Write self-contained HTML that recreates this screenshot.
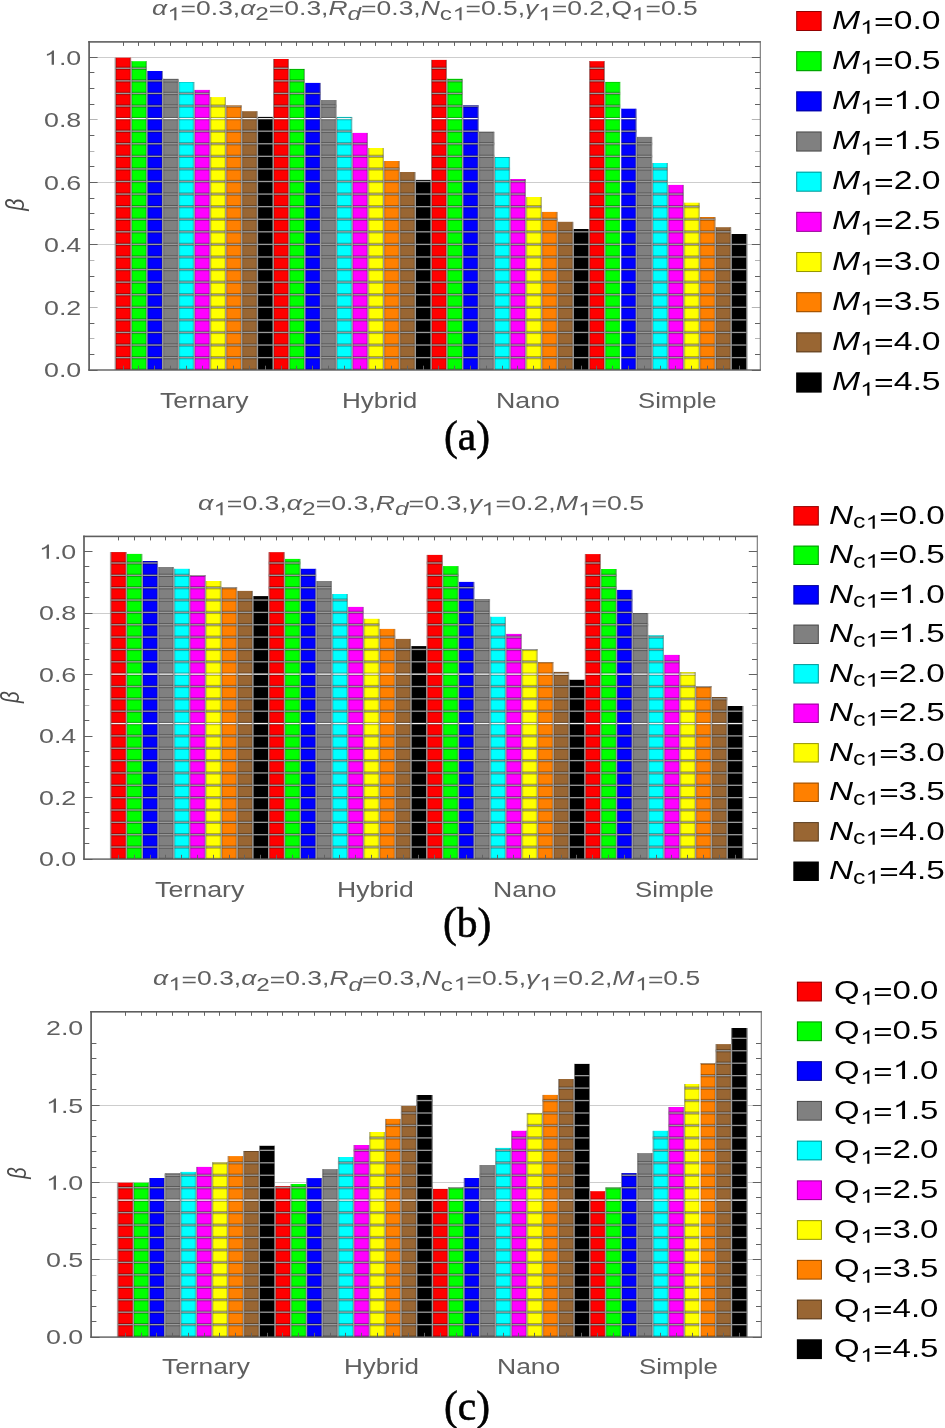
<!DOCTYPE html><html><head><meta charset="utf-8"><style>html,body{margin:0;padding:0;background:#fff;}body{width:945px;height:1428px;position:relative;overflow:hidden;}div{position:absolute;}.t{white-space:nowrap;transform-origin:0 0;font-family:"Liberation Sans",sans-serif;filter:grayscale(1);}.s{position:relative;}svg.o{display:inline-block;width:0.5562em;height:1.1172em;vertical-align:-0.2119em;fill:currentColor;overflow:visible}</style></head><body>
<svg style="position:absolute;left:0;top:0" width="945" height="1428" viewBox="0 0 945 1428" shape-rendering="auto">
<rect x="89.1" y="57" width="671.2" height="1" fill="#cdcdcd"/>
<rect x="89.1" y="182" width="671.2" height="1" fill="#cdcdcd"/>
<rect x="89.1" y="244" width="671.2" height="1" fill="#cdcdcd"/>
<rect x="115.3" y="57.7" width="15.79" height="312.3" fill="#ff0000"/>
<rect x="131.09" y="61.2" width="15.79" height="308.8" fill="#00ff00"/>
<rect x="146.88" y="71" width="15.79" height="299" fill="#0000ff"/>
<rect x="162.67" y="78.8" width="15.79" height="291.2" fill="#808080"/>
<rect x="178.46" y="82" width="15.79" height="288" fill="#00ffff"/>
<rect x="194.25" y="89.9" width="15.79" height="280.1" fill="#ff00ff"/>
<rect x="210.04" y="97.1" width="15.79" height="272.9" fill="#ffff00"/>
<rect x="225.83" y="105.4" width="15.79" height="264.6" fill="#ff8000"/>
<rect x="241.62" y="111.2" width="15.79" height="258.8" fill="#996633"/>
<rect x="257.41" y="116.9" width="15.79" height="253.1" fill="#000000"/>
<rect x="273.2" y="59" width="15.79" height="311" fill="#ff0000"/>
<rect x="288.99" y="68.9" width="15.79" height="301.1" fill="#00ff00"/>
<rect x="304.78" y="82.9" width="15.79" height="287.1" fill="#0000ff"/>
<rect x="320.57" y="100" width="15.79" height="270" fill="#808080"/>
<rect x="336.36" y="116.9" width="15.79" height="253.1" fill="#00ffff"/>
<rect x="352.15" y="132.9" width="15.79" height="237.1" fill="#ff00ff"/>
<rect x="367.94" y="148" width="15.79" height="222" fill="#ffff00"/>
<rect x="383.73" y="161" width="15.79" height="209" fill="#ff8000"/>
<rect x="399.52" y="172" width="15.79" height="198" fill="#996633"/>
<rect x="415.31" y="179.9" width="15.79" height="190.1" fill="#000000"/>
<rect x="431.1" y="59.9" width="15.79" height="310.1" fill="#ff0000"/>
<rect x="446.89" y="78.8" width="15.79" height="291.2" fill="#00ff00"/>
<rect x="462.68" y="105.2" width="15.79" height="264.8" fill="#0000ff"/>
<rect x="478.47" y="131.8" width="15.79" height="238.2" fill="#808080"/>
<rect x="494.26" y="157" width="15.79" height="213" fill="#00ffff"/>
<rect x="510.05" y="179" width="15.79" height="191" fill="#ff00ff"/>
<rect x="525.84" y="197" width="15.79" height="173" fill="#ffff00"/>
<rect x="541.63" y="211.9" width="15.79" height="158.1" fill="#ff8000"/>
<rect x="557.42" y="221.8" width="15.79" height="148.2" fill="#996633"/>
<rect x="573.21" y="229" width="15.79" height="141" fill="#000000"/>
<rect x="589" y="61.2" width="15.79" height="308.8" fill="#ff0000"/>
<rect x="604.79" y="81.9" width="15.79" height="288.1" fill="#00ff00"/>
<rect x="620.58" y="108.7" width="15.79" height="261.3" fill="#0000ff"/>
<rect x="636.37" y="136.9" width="15.79" height="233.1" fill="#808080"/>
<rect x="652.16" y="163" width="15.79" height="207" fill="#00ffff"/>
<rect x="667.95" y="184.9" width="15.79" height="185.1" fill="#ff00ff"/>
<rect x="683.74" y="202.7" width="15.79" height="167.3" fill="#ffff00"/>
<rect x="699.53" y="217" width="15.79" height="153" fill="#ff8000"/>
<rect x="715.32" y="227.2" width="15.79" height="142.8" fill="#996633"/>
<rect x="731.11" y="234" width="15.79" height="136" fill="#000000"/>
<clipPath id="clipa"><rect x="115.3" y="57.7" width="15.79" height="312.3" fill="#000"/><rect x="131.09" y="61.2" width="15.79" height="308.8" fill="#000"/><rect x="146.88" y="71" width="15.79" height="299" fill="#000"/><rect x="162.67" y="78.8" width="15.79" height="291.2" fill="#000"/><rect x="178.46" y="82" width="15.79" height="288" fill="#000"/><rect x="194.25" y="89.9" width="15.79" height="280.1" fill="#000"/><rect x="210.04" y="97.1" width="15.79" height="272.9" fill="#000"/><rect x="225.83" y="105.4" width="15.79" height="264.6" fill="#000"/><rect x="241.62" y="111.2" width="15.79" height="258.8" fill="#000"/><rect x="257.41" y="116.9" width="15.79" height="253.1" fill="#000"/><rect x="273.2" y="59" width="15.79" height="311" fill="#000"/><rect x="288.99" y="68.9" width="15.79" height="301.1" fill="#000"/><rect x="304.78" y="82.9" width="15.79" height="287.1" fill="#000"/><rect x="320.57" y="100" width="15.79" height="270" fill="#000"/><rect x="336.36" y="116.9" width="15.79" height="253.1" fill="#000"/><rect x="352.15" y="132.9" width="15.79" height="237.1" fill="#000"/><rect x="367.94" y="148" width="15.79" height="222" fill="#000"/><rect x="383.73" y="161" width="15.79" height="209" fill="#000"/><rect x="399.52" y="172" width="15.79" height="198" fill="#000"/><rect x="415.31" y="179.9" width="15.79" height="190.1" fill="#000"/><rect x="431.1" y="59.9" width="15.79" height="310.1" fill="#000"/><rect x="446.89" y="78.8" width="15.79" height="291.2" fill="#000"/><rect x="462.68" y="105.2" width="15.79" height="264.8" fill="#000"/><rect x="478.47" y="131.8" width="15.79" height="238.2" fill="#000"/><rect x="494.26" y="157" width="15.79" height="213" fill="#000"/><rect x="510.05" y="179" width="15.79" height="191" fill="#000"/><rect x="525.84" y="197" width="15.79" height="173" fill="#000"/><rect x="541.63" y="211.9" width="15.79" height="158.1" fill="#000"/><rect x="557.42" y="221.8" width="15.79" height="148.2" fill="#000"/><rect x="573.21" y="229" width="15.79" height="141" fill="#000"/><rect x="589" y="61.2" width="15.79" height="308.8" fill="#000"/><rect x="604.79" y="81.9" width="15.79" height="288.1" fill="#000"/><rect x="620.58" y="108.7" width="15.79" height="261.3" fill="#000"/><rect x="636.37" y="136.9" width="15.79" height="233.1" fill="#000"/><rect x="652.16" y="163" width="15.79" height="207" fill="#000"/><rect x="667.95" y="184.9" width="15.79" height="185.1" fill="#000"/><rect x="683.74" y="202.7" width="15.79" height="167.3" fill="#000"/><rect x="699.53" y="217" width="15.79" height="153" fill="#000"/><rect x="715.32" y="227.2" width="15.79" height="142.8" fill="#000"/><rect x="731.11" y="234" width="15.79" height="136" fill="#000"/></clipPath>
<g clip-path="url(#clipa)">
<rect x="115.3" y="368.55" width="631.6" height="3.3" fill="#000" fill-opacity="0.3"/>
<rect x="115.3" y="355.97" width="631.6" height="3.3" fill="#000" fill-opacity="0.3"/>
<rect x="115.3" y="356.97" width="631.6" height="1.3" fill="#9a9a9a"/>
<rect x="115.3" y="343.39" width="631.6" height="3.3" fill="#000" fill-opacity="0.3"/>
<rect x="115.3" y="344.39" width="631.6" height="1.3" fill="#9a9a9a"/>
<rect x="115.3" y="330.81" width="631.6" height="3.3" fill="#000" fill-opacity="0.3"/>
<rect x="115.3" y="331.81" width="631.6" height="1.3" fill="#9a9a9a"/>
<rect x="115.3" y="318.23" width="631.6" height="3.3" fill="#000" fill-opacity="0.3"/>
<rect x="115.3" y="319.23" width="631.6" height="1.3" fill="#9a9a9a"/>
<rect x="115.3" y="305.65" width="631.6" height="3.3" fill="#000" fill-opacity="0.3"/>
<rect x="115.3" y="306.65" width="631.6" height="1.3" fill="#9a9a9a"/>
<rect x="115.3" y="293.07" width="631.6" height="3.3" fill="#000" fill-opacity="0.3"/>
<rect x="115.3" y="294.07" width="631.6" height="1.3" fill="#9a9a9a"/>
<rect x="115.3" y="280.49" width="631.6" height="3.3" fill="#000" fill-opacity="0.3"/>
<rect x="115.3" y="281.49" width="631.6" height="1.3" fill="#9a9a9a"/>
<rect x="115.3" y="267.91" width="631.6" height="3.3" fill="#000" fill-opacity="0.3"/>
<rect x="115.3" y="268.91" width="631.6" height="1.3" fill="#9a9a9a"/>
<rect x="115.3" y="255.33" width="631.6" height="3.3" fill="#000" fill-opacity="0.3"/>
<rect x="115.3" y="256.33" width="631.6" height="1.3" fill="#9a9a9a"/>
<rect x="115.3" y="242.75" width="631.6" height="3.3" fill="#000" fill-opacity="0.3"/>
<rect x="115.3" y="243.75" width="631.6" height="1.3" fill="#9a9a9a"/>
<rect x="115.3" y="230.17" width="631.6" height="3.3" fill="#000" fill-opacity="0.3"/>
<rect x="115.3" y="231.17" width="631.6" height="1.3" fill="#9a9a9a"/>
<rect x="115.3" y="217.59" width="631.6" height="3.3" fill="#000" fill-opacity="0.3"/>
<rect x="115.3" y="218.59" width="631.6" height="1.3" fill="#9a9a9a"/>
<rect x="115.3" y="205.01" width="631.6" height="3.3" fill="#000" fill-opacity="0.3"/>
<rect x="115.3" y="206.01" width="631.6" height="1.3" fill="#9a9a9a"/>
<rect x="115.3" y="192.43" width="631.6" height="3.3" fill="#000" fill-opacity="0.3"/>
<rect x="115.3" y="193.43" width="631.6" height="1.3" fill="#9a9a9a"/>
<rect x="115.3" y="179.85" width="631.6" height="3.3" fill="#000" fill-opacity="0.3"/>
<rect x="115.3" y="180.85" width="631.6" height="1.3" fill="#9a9a9a"/>
<rect x="115.3" y="167.27" width="631.6" height="3.3" fill="#000" fill-opacity="0.3"/>
<rect x="115.3" y="168.27" width="631.6" height="1.3" fill="#9a9a9a"/>
<rect x="115.3" y="154.69" width="631.6" height="3.3" fill="#000" fill-opacity="0.3"/>
<rect x="115.3" y="155.69" width="631.6" height="1.3" fill="#9a9a9a"/>
<rect x="115.3" y="142.11" width="631.6" height="3.3" fill="#000" fill-opacity="0.3"/>
<rect x="115.3" y="143.11" width="631.6" height="1.3" fill="#9a9a9a"/>
<rect x="115.3" y="129.53" width="631.6" height="3.3" fill="#000" fill-opacity="0.3"/>
<rect x="115.3" y="130.53" width="631.6" height="1.3" fill="#9a9a9a"/>
<rect x="115.3" y="116.95" width="631.6" height="3.3" fill="#000" fill-opacity="0.3"/>
<rect x="115.3" y="117.95" width="631.6" height="1.3" fill="#f4f4f4"/>
<rect x="115.3" y="104.37" width="631.6" height="3.3" fill="#000" fill-opacity="0.3"/>
<rect x="115.3" y="105.37" width="631.6" height="1.3" fill="#9a9a9a"/>
<rect x="115.3" y="91.79" width="631.6" height="3.3" fill="#000" fill-opacity="0.3"/>
<rect x="115.3" y="92.79" width="631.6" height="1.3" fill="#9a9a9a"/>
<rect x="115.3" y="79.21" width="631.6" height="3.3" fill="#000" fill-opacity="0.3"/>
<rect x="115.3" y="80.21" width="631.6" height="1.3" fill="#9a9a9a"/>
<rect x="115.3" y="66.63" width="631.6" height="3.3" fill="#000" fill-opacity="0.3"/>
<rect x="115.3" y="67.63" width="631.6" height="1.3" fill="#9a9a9a"/>
<rect x="115.3" y="54.05" width="631.6" height="3.3" fill="#000" fill-opacity="0.3"/>
<rect x="115.3" y="55.05" width="631.6" height="1.3" fill="#9a9a9a"/>
<rect x="113.6" y="57.7" width="3.4" height="312.3" fill="#000" fill-opacity="0.12"/>
<rect x="114.6" y="57.7" width="1.4" height="312.3" fill="#9a9a9a"/>
<rect x="129.39" y="57.7" width="3.4" height="312.3" fill="#000" fill-opacity="0.12"/>
<rect x="130.39" y="57.7" width="1.4" height="312.3" fill="#9a9a9a"/>
<rect x="145.18" y="61.2" width="3.4" height="308.8" fill="#000" fill-opacity="0.12"/>
<rect x="146.18" y="61.2" width="1.4" height="308.8" fill="#9a9a9a"/>
<rect x="160.97" y="71" width="3.4" height="299" fill="#000" fill-opacity="0.12"/>
<rect x="161.97" y="71" width="1.4" height="299" fill="#9a9a9a"/>
<rect x="176.76" y="78.8" width="3.4" height="291.2" fill="#000" fill-opacity="0.12"/>
<rect x="177.76" y="78.8" width="1.4" height="291.2" fill="#9a9a9a"/>
<rect x="192.55" y="82" width="3.4" height="288" fill="#000" fill-opacity="0.12"/>
<rect x="193.55" y="82" width="1.4" height="288" fill="#9a9a9a"/>
<rect x="208.34" y="89.9" width="3.4" height="280.1" fill="#000" fill-opacity="0.12"/>
<rect x="209.34" y="89.9" width="1.4" height="280.1" fill="#9a9a9a"/>
<rect x="224.13" y="97.1" width="3.4" height="272.9" fill="#000" fill-opacity="0.12"/>
<rect x="225.13" y="97.1" width="1.4" height="272.9" fill="#9a9a9a"/>
<rect x="239.92" y="105.4" width="3.4" height="264.6" fill="#000" fill-opacity="0.12"/>
<rect x="240.92" y="105.4" width="1.4" height="264.6" fill="#9a9a9a"/>
<rect x="255.71" y="111.2" width="3.4" height="258.8" fill="#000" fill-opacity="0.12"/>
<rect x="256.71" y="111.2" width="1.4" height="258.8" fill="#9a9a9a"/>
<rect x="271.5" y="59" width="3.4" height="311" fill="#000" fill-opacity="0.12"/>
<rect x="272.5" y="59" width="1.4" height="311" fill="#9a9a9a"/>
<rect x="287.29" y="59" width="3.4" height="311" fill="#000" fill-opacity="0.12"/>
<rect x="288.29" y="59" width="1.4" height="311" fill="#9a9a9a"/>
<rect x="303.08" y="68.9" width="3.4" height="301.1" fill="#000" fill-opacity="0.12"/>
<rect x="304.08" y="68.9" width="1.4" height="301.1" fill="#9a9a9a"/>
<rect x="318.87" y="82.9" width="3.4" height="287.1" fill="#000" fill-opacity="0.12"/>
<rect x="319.87" y="82.9" width="1.4" height="287.1" fill="#9a9a9a"/>
<rect x="334.66" y="100" width="3.4" height="270" fill="#000" fill-opacity="0.12"/>
<rect x="335.66" y="100" width="1.4" height="270" fill="#9a9a9a"/>
<rect x="350.45" y="116.9" width="3.4" height="253.1" fill="#000" fill-opacity="0.12"/>
<rect x="351.45" y="116.9" width="1.4" height="253.1" fill="#9a9a9a"/>
<rect x="366.24" y="132.9" width="3.4" height="237.1" fill="#000" fill-opacity="0.12"/>
<rect x="367.24" y="132.9" width="1.4" height="237.1" fill="#9a9a9a"/>
<rect x="382.03" y="148" width="3.4" height="222" fill="#000" fill-opacity="0.12"/>
<rect x="383.03" y="148" width="1.4" height="222" fill="#9a9a9a"/>
<rect x="397.82" y="161" width="3.4" height="209" fill="#000" fill-opacity="0.12"/>
<rect x="398.82" y="161" width="1.4" height="209" fill="#9a9a9a"/>
<rect x="413.61" y="172" width="3.4" height="198" fill="#000" fill-opacity="0.12"/>
<rect x="414.61" y="172" width="1.4" height="198" fill="#9a9a9a"/>
<rect x="429.4" y="59.9" width="3.4" height="310.1" fill="#000" fill-opacity="0.12"/>
<rect x="430.4" y="59.9" width="1.4" height="310.1" fill="#9a9a9a"/>
<rect x="445.19" y="59.9" width="3.4" height="310.1" fill="#000" fill-opacity="0.12"/>
<rect x="446.19" y="59.9" width="1.4" height="310.1" fill="#9a9a9a"/>
<rect x="460.98" y="78.8" width="3.4" height="291.2" fill="#000" fill-opacity="0.12"/>
<rect x="461.98" y="78.8" width="1.4" height="291.2" fill="#9a9a9a"/>
<rect x="476.77" y="105.2" width="3.4" height="264.8" fill="#000" fill-opacity="0.12"/>
<rect x="477.77" y="105.2" width="1.4" height="264.8" fill="#9a9a9a"/>
<rect x="492.56" y="131.8" width="3.4" height="238.2" fill="#000" fill-opacity="0.12"/>
<rect x="493.56" y="131.8" width="1.4" height="238.2" fill="#9a9a9a"/>
<rect x="508.35" y="157" width="3.4" height="213" fill="#000" fill-opacity="0.12"/>
<rect x="509.35" y="157" width="1.4" height="213" fill="#9a9a9a"/>
<rect x="524.14" y="179" width="3.4" height="191" fill="#000" fill-opacity="0.12"/>
<rect x="525.14" y="179" width="1.4" height="191" fill="#9a9a9a"/>
<rect x="539.93" y="197" width="3.4" height="173" fill="#000" fill-opacity="0.12"/>
<rect x="540.93" y="197" width="1.4" height="173" fill="#9a9a9a"/>
<rect x="555.72" y="211.9" width="3.4" height="158.1" fill="#000" fill-opacity="0.12"/>
<rect x="556.72" y="211.9" width="1.4" height="158.1" fill="#9a9a9a"/>
<rect x="571.51" y="221.8" width="3.4" height="148.2" fill="#000" fill-opacity="0.12"/>
<rect x="572.51" y="221.8" width="1.4" height="148.2" fill="#9a9a9a"/>
<rect x="587.3" y="61.2" width="3.4" height="308.8" fill="#000" fill-opacity="0.12"/>
<rect x="588.3" y="61.2" width="1.4" height="308.8" fill="#9a9a9a"/>
<rect x="603.09" y="61.2" width="3.4" height="308.8" fill="#000" fill-opacity="0.12"/>
<rect x="604.09" y="61.2" width="1.4" height="308.8" fill="#9a9a9a"/>
<rect x="618.88" y="81.9" width="3.4" height="288.1" fill="#000" fill-opacity="0.12"/>
<rect x="619.88" y="81.9" width="1.4" height="288.1" fill="#f4f4f4"/>
<rect x="634.67" y="108.7" width="3.4" height="261.3" fill="#000" fill-opacity="0.12"/>
<rect x="635.67" y="108.7" width="1.4" height="261.3" fill="#9a9a9a"/>
<rect x="650.46" y="136.9" width="3.4" height="233.1" fill="#000" fill-opacity="0.12"/>
<rect x="651.46" y="136.9" width="1.4" height="233.1" fill="#9a9a9a"/>
<rect x="666.25" y="163" width="3.4" height="207" fill="#000" fill-opacity="0.12"/>
<rect x="667.25" y="163" width="1.4" height="207" fill="#9a9a9a"/>
<rect x="682.04" y="184.9" width="3.4" height="185.1" fill="#000" fill-opacity="0.12"/>
<rect x="683.04" y="184.9" width="1.4" height="185.1" fill="#9a9a9a"/>
<rect x="697.83" y="202.7" width="3.4" height="167.3" fill="#000" fill-opacity="0.12"/>
<rect x="698.83" y="202.7" width="1.4" height="167.3" fill="#9a9a9a"/>
<rect x="713.62" y="217" width="3.4" height="153" fill="#000" fill-opacity="0.12"/>
<rect x="714.62" y="217" width="1.4" height="153" fill="#9a9a9a"/>
<rect x="729.41" y="227.2" width="3.4" height="142.8" fill="#000" fill-opacity="0.12"/>
<rect x="730.41" y="227.2" width="1.4" height="142.8" fill="#9a9a9a"/>
<rect x="745.2" y="234" width="3.4" height="136" fill="#000" fill-opacity="0.12"/>
<rect x="746.2" y="234" width="1.4" height="136" fill="#9a9a9a"/>
</g>
<rect x="114.6" y="57.7" width="0.7" height="312.3" fill="#9a9a9a"/>
<rect x="746.9" y="234" width="0.7" height="136" fill="#9a9a9a"/>
<rect x="123" y="365.7" width="1" height="4.3" fill="#626262"/>
<rect x="123" y="41.9" width="1" height="4" fill="#626262"/>
<rect x="138" y="365.7" width="1" height="4.3" fill="#626262"/>
<rect x="138" y="41.9" width="1" height="4" fill="#626262"/>
<rect x="154" y="365.7" width="1" height="4.3" fill="#626262"/>
<rect x="154" y="41.9" width="1" height="4" fill="#626262"/>
<rect x="170" y="365.7" width="1" height="4.3" fill="#626262"/>
<rect x="170" y="41.9" width="1" height="4" fill="#626262"/>
<rect x="186" y="365.7" width="1" height="4.3" fill="#626262"/>
<rect x="186" y="41.9" width="1" height="4" fill="#626262"/>
<rect x="202" y="365.7" width="1" height="4.3" fill="#626262"/>
<rect x="202" y="41.9" width="1" height="4" fill="#626262"/>
<rect x="217" y="365.7" width="1" height="4.3" fill="#626262"/>
<rect x="217" y="41.9" width="1" height="4" fill="#626262"/>
<rect x="233" y="365.7" width="1" height="4.3" fill="#626262"/>
<rect x="233" y="41.9" width="1" height="4" fill="#626262"/>
<rect x="249" y="365.7" width="1" height="4.3" fill="#626262"/>
<rect x="249" y="41.9" width="1" height="4" fill="#626262"/>
<rect x="265" y="365.7" width="1" height="4.3" fill="#626262"/>
<rect x="265" y="41.9" width="1" height="4" fill="#626262"/>
<rect x="281" y="365.7" width="1" height="4.3" fill="#626262"/>
<rect x="281" y="41.9" width="1" height="4" fill="#626262"/>
<rect x="296" y="365.7" width="1" height="4.3" fill="#626262"/>
<rect x="296" y="41.9" width="1" height="4" fill="#626262"/>
<rect x="312" y="365.7" width="1" height="4.3" fill="#626262"/>
<rect x="312" y="41.9" width="1" height="4" fill="#626262"/>
<rect x="328" y="365.7" width="1" height="4.3" fill="#626262"/>
<rect x="328" y="41.9" width="1" height="4" fill="#626262"/>
<rect x="344" y="365.7" width="1" height="4.3" fill="#626262"/>
<rect x="344" y="41.9" width="1" height="4" fill="#626262"/>
<rect x="360" y="365.7" width="1" height="4.3" fill="#626262"/>
<rect x="360" y="41.9" width="1" height="4" fill="#626262"/>
<rect x="375" y="365.7" width="1" height="4.3" fill="#626262"/>
<rect x="375" y="41.9" width="1" height="4" fill="#626262"/>
<rect x="391" y="365.7" width="1" height="4.3" fill="#626262"/>
<rect x="391" y="41.9" width="1" height="4" fill="#626262"/>
<rect x="407" y="365.7" width="1" height="4.3" fill="#626262"/>
<rect x="407" y="41.9" width="1" height="4" fill="#626262"/>
<rect x="423" y="365.7" width="1" height="4.3" fill="#626262"/>
<rect x="423" y="41.9" width="1" height="4" fill="#626262"/>
<rect x="438" y="365.7" width="1" height="4.3" fill="#626262"/>
<rect x="438" y="41.9" width="1" height="4" fill="#626262"/>
<rect x="454" y="365.7" width="1" height="4.3" fill="#626262"/>
<rect x="454" y="41.9" width="1" height="4" fill="#626262"/>
<rect x="470" y="365.7" width="1" height="4.3" fill="#626262"/>
<rect x="470" y="41.9" width="1" height="4" fill="#626262"/>
<rect x="486" y="365.7" width="1" height="4.3" fill="#626262"/>
<rect x="486" y="41.9" width="1" height="4" fill="#626262"/>
<rect x="502" y="365.7" width="1" height="4.3" fill="#626262"/>
<rect x="502" y="41.9" width="1" height="4" fill="#626262"/>
<rect x="517" y="365.7" width="1" height="4.3" fill="#626262"/>
<rect x="517" y="41.9" width="1" height="4" fill="#626262"/>
<rect x="533" y="365.7" width="1" height="4.3" fill="#626262"/>
<rect x="533" y="41.9" width="1" height="4" fill="#626262"/>
<rect x="549" y="365.7" width="1" height="4.3" fill="#626262"/>
<rect x="549" y="41.9" width="1" height="4" fill="#626262"/>
<rect x="565" y="365.7" width="1" height="4.3" fill="#626262"/>
<rect x="565" y="41.9" width="1" height="4" fill="#626262"/>
<rect x="581" y="365.7" width="1" height="4.3" fill="#626262"/>
<rect x="581" y="41.9" width="1" height="4" fill="#626262"/>
<rect x="596" y="365.7" width="1" height="4.3" fill="#626262"/>
<rect x="596" y="41.9" width="1" height="4" fill="#626262"/>
<rect x="612" y="365.7" width="1" height="4.3" fill="#626262"/>
<rect x="612" y="41.9" width="1" height="4" fill="#626262"/>
<rect x="628" y="365.7" width="1" height="4.3" fill="#626262"/>
<rect x="628" y="41.9" width="1" height="4" fill="#626262"/>
<rect x="644" y="365.7" width="1" height="4.3" fill="#626262"/>
<rect x="644" y="41.9" width="1" height="4" fill="#626262"/>
<rect x="660" y="365.7" width="1" height="4.3" fill="#626262"/>
<rect x="660" y="41.9" width="1" height="4" fill="#626262"/>
<rect x="675" y="365.7" width="1" height="4.3" fill="#626262"/>
<rect x="675" y="41.9" width="1" height="4" fill="#626262"/>
<rect x="691" y="365.7" width="1" height="4.3" fill="#626262"/>
<rect x="691" y="41.9" width="1" height="4" fill="#626262"/>
<rect x="707" y="365.7" width="1" height="4.3" fill="#626262"/>
<rect x="707" y="41.9" width="1" height="4" fill="#626262"/>
<rect x="723" y="365.7" width="1" height="4.3" fill="#626262"/>
<rect x="723" y="41.9" width="1" height="4" fill="#626262"/>
<rect x="739" y="365.7" width="1" height="4.3" fill="#626262"/>
<rect x="739" y="41.9" width="1" height="4" fill="#626262"/>
<rect x="89.1" y="370" width="8.5" height="1" fill="#626262"/>
<rect x="751.8" y="370" width="8.5" height="1" fill="#626262"/>
<rect x="89.1" y="354" width="5.3" height="1" fill="#626262"/>
<rect x="755" y="354" width="5.3" height="1" fill="#626262"/>
<rect x="89.1" y="338" width="5.3" height="1" fill="#b4b4b4"/>
<rect x="755" y="338" width="5.3" height="1" fill="#b4b4b4"/>
<rect x="89.1" y="323" width="5.3" height="1" fill="#626262"/>
<rect x="755" y="323" width="5.3" height="1" fill="#626262"/>
<rect x="89.1" y="307" width="8.5" height="1" fill="#b4b4b4"/>
<rect x="751.8" y="307" width="8.5" height="1" fill="#b4b4b4"/>
<rect x="89.1" y="291" width="5.3" height="1" fill="#626262"/>
<rect x="755" y="291" width="5.3" height="1" fill="#626262"/>
<rect x="89.1" y="276" width="5.3" height="1" fill="#626262"/>
<rect x="755" y="276" width="5.3" height="1" fill="#626262"/>
<rect x="89.1" y="260" width="5.3" height="1" fill="#b4b4b4"/>
<rect x="755" y="260" width="5.3" height="1" fill="#b4b4b4"/>
<rect x="89.1" y="244" width="8.5" height="1" fill="#626262"/>
<rect x="751.8" y="244" width="8.5" height="1" fill="#626262"/>
<rect x="89.1" y="229" width="5.3" height="1" fill="#626262"/>
<rect x="755" y="229" width="5.3" height="1" fill="#626262"/>
<rect x="89.1" y="213" width="5.3" height="1" fill="#626262"/>
<rect x="755" y="213" width="5.3" height="1" fill="#626262"/>
<rect x="89.1" y="198" width="5.3" height="1" fill="#626262"/>
<rect x="755" y="198" width="5.3" height="1" fill="#626262"/>
<rect x="89.1" y="182" width="8.5" height="1" fill="#626262"/>
<rect x="751.8" y="182" width="8.5" height="1" fill="#626262"/>
<rect x="89.1" y="166" width="5.3" height="1" fill="#626262"/>
<rect x="755" y="166" width="5.3" height="1" fill="#626262"/>
<rect x="89.1" y="151" width="5.3" height="1" fill="#b4b4b4"/>
<rect x="755" y="151" width="5.3" height="1" fill="#b4b4b4"/>
<rect x="89.1" y="135" width="5.3" height="1" fill="#626262"/>
<rect x="755" y="135" width="5.3" height="1" fill="#626262"/>
<rect x="89.1" y="119" width="8.5" height="1" fill="#b4b4b4"/>
<rect x="751.8" y="119" width="8.5" height="1" fill="#b4b4b4"/>
<rect x="89.1" y="104" width="5.3" height="1" fill="#626262"/>
<rect x="755" y="104" width="5.3" height="1" fill="#626262"/>
<rect x="89.1" y="88" width="5.3" height="1" fill="#626262"/>
<rect x="755" y="88" width="5.3" height="1" fill="#626262"/>
<rect x="89.1" y="72" width="5.3" height="1" fill="#626262"/>
<rect x="755" y="72" width="5.3" height="1" fill="#626262"/>
<rect x="89.1" y="57" width="8.5" height="1" fill="#626262"/>
<rect x="751.8" y="57" width="8.5" height="1" fill="#626262"/>
<rect x="88.25" y="41.1" width="1.7" height="329.6" fill="#5e5e5e"/>
<rect x="88.25" y="41.1" width="672.6" height="1.6" fill="#5e5e5e"/>
<rect x="759.75" y="41.1" width="1.1" height="329.6" fill="#747474"/>
<rect x="88.25" y="369.3" width="672.6" height="1.4" fill="#5e5e5e"/>
<rect x="796.2" y="11" width="25.4" height="20" fill="#ff0000"/>
<rect x="796.7" y="11.5" width="24.4" height="19" fill="none" stroke="#000" stroke-opacity="0.42" stroke-width="1"/>
<rect x="796.2" y="51.17" width="25.4" height="20" fill="#00ff00"/>
<rect x="796.7" y="51.67" width="24.4" height="19" fill="none" stroke="#000" stroke-opacity="0.42" stroke-width="1"/>
<rect x="796.2" y="91.34" width="25.4" height="20" fill="#0000ff"/>
<rect x="796.7" y="91.84" width="24.4" height="19" fill="none" stroke="#000" stroke-opacity="0.42" stroke-width="1"/>
<rect x="796.2" y="131.51" width="25.4" height="20" fill="#808080"/>
<rect x="796.7" y="132.01" width="24.4" height="19" fill="none" stroke="#000" stroke-opacity="0.42" stroke-width="1"/>
<rect x="796.2" y="171.68" width="25.4" height="20" fill="#00ffff"/>
<rect x="796.7" y="172.18" width="24.4" height="19" fill="none" stroke="#000" stroke-opacity="0.42" stroke-width="1"/>
<rect x="796.2" y="211.85" width="25.4" height="20" fill="#ff00ff"/>
<rect x="796.7" y="212.35" width="24.4" height="19" fill="none" stroke="#000" stroke-opacity="0.42" stroke-width="1"/>
<rect x="796.2" y="252.02" width="25.4" height="20" fill="#ffff00"/>
<rect x="796.7" y="252.52" width="24.4" height="19" fill="none" stroke="#000" stroke-opacity="0.42" stroke-width="1"/>
<rect x="796.2" y="292.19" width="25.4" height="20" fill="#ff8000"/>
<rect x="796.7" y="292.69" width="24.4" height="19" fill="none" stroke="#000" stroke-opacity="0.42" stroke-width="1"/>
<rect x="796.2" y="332.36" width="25.4" height="20" fill="#996633"/>
<rect x="796.7" y="332.86" width="24.4" height="19" fill="none" stroke="#000" stroke-opacity="0.42" stroke-width="1"/>
<rect x="796.2" y="372.53" width="25.4" height="20" fill="#000000"/>
<rect x="796.7" y="373.03" width="24.4" height="19" fill="none" stroke="#000" stroke-opacity="0.42" stroke-width="1"/>
<rect x="84" y="613" width="673.3" height="1" fill="#cdcdcd"/>
<rect x="110.6" y="552.1" width="15.81" height="307" fill="#ff0000"/>
<rect x="126.41" y="553.9" width="15.81" height="305.2" fill="#00ff00"/>
<rect x="142.22" y="561" width="15.81" height="298.1" fill="#0000ff"/>
<rect x="158.03" y="567" width="15.81" height="292.1" fill="#808080"/>
<rect x="173.84" y="568.8" width="15.81" height="290.3" fill="#00ffff"/>
<rect x="189.65" y="575.1" width="15.81" height="284" fill="#ff00ff"/>
<rect x="205.46" y="581" width="15.81" height="278.1" fill="#ffff00"/>
<rect x="221.27" y="587.1" width="15.81" height="272" fill="#ff8000"/>
<rect x="237.08" y="590.9" width="15.81" height="268.2" fill="#996633"/>
<rect x="252.89" y="596.1" width="15.81" height="263" fill="#000000"/>
<rect x="268.7" y="552.2" width="15.81" height="306.9" fill="#ff0000"/>
<rect x="284.51" y="558.9" width="15.81" height="300.2" fill="#00ff00"/>
<rect x="300.32" y="568.8" width="15.81" height="290.3" fill="#0000ff"/>
<rect x="316.13" y="581" width="15.81" height="278.1" fill="#808080"/>
<rect x="331.94" y="594" width="15.81" height="265.1" fill="#00ffff"/>
<rect x="347.75" y="606.9" width="15.81" height="252.2" fill="#ff00ff"/>
<rect x="363.56" y="618.8" width="15.81" height="240.3" fill="#ffff00"/>
<rect x="379.37" y="628.9" width="15.81" height="230.2" fill="#ff8000"/>
<rect x="395.18" y="638.9" width="15.81" height="220.2" fill="#996633"/>
<rect x="410.99" y="646.1" width="15.81" height="213" fill="#000000"/>
<rect x="426.8" y="554.9" width="15.81" height="304.2" fill="#ff0000"/>
<rect x="442.61" y="566.1" width="15.81" height="293" fill="#00ff00"/>
<rect x="458.42" y="581.9" width="15.81" height="277.2" fill="#0000ff"/>
<rect x="474.23" y="599" width="15.81" height="260.1" fill="#808080"/>
<rect x="490.04" y="616.8" width="15.81" height="242.3" fill="#00ffff"/>
<rect x="505.85" y="633.9" width="15.81" height="225.2" fill="#ff00ff"/>
<rect x="521.66" y="649" width="15.81" height="210.1" fill="#ffff00"/>
<rect x="537.47" y="662" width="15.81" height="197.1" fill="#ff8000"/>
<rect x="553.28" y="671.9" width="15.81" height="187.2" fill="#996633"/>
<rect x="569.09" y="679.8" width="15.81" height="179.3" fill="#000000"/>
<rect x="584.9" y="554.1" width="15.81" height="305" fill="#ff0000"/>
<rect x="600.71" y="569" width="15.81" height="290.1" fill="#00ff00"/>
<rect x="616.52" y="589.9" width="15.81" height="269.2" fill="#0000ff"/>
<rect x="632.33" y="613" width="15.81" height="246.1" fill="#808080"/>
<rect x="648.14" y="635.3" width="15.81" height="223.8" fill="#00ffff"/>
<rect x="663.95" y="654.9" width="15.81" height="204.2" fill="#ff00ff"/>
<rect x="679.76" y="672.1" width="15.81" height="187" fill="#ffff00"/>
<rect x="695.57" y="686" width="15.81" height="173.1" fill="#ff8000"/>
<rect x="711.38" y="697" width="15.81" height="162.1" fill="#996633"/>
<rect x="727.19" y="706" width="15.81" height="153.1" fill="#000000"/>
<clipPath id="clipb"><rect x="110.6" y="552.1" width="15.81" height="307" fill="#000"/><rect x="126.41" y="553.9" width="15.81" height="305.2" fill="#000"/><rect x="142.22" y="561" width="15.81" height="298.1" fill="#000"/><rect x="158.03" y="567" width="15.81" height="292.1" fill="#000"/><rect x="173.84" y="568.8" width="15.81" height="290.3" fill="#000"/><rect x="189.65" y="575.1" width="15.81" height="284" fill="#000"/><rect x="205.46" y="581" width="15.81" height="278.1" fill="#000"/><rect x="221.27" y="587.1" width="15.81" height="272" fill="#000"/><rect x="237.08" y="590.9" width="15.81" height="268.2" fill="#000"/><rect x="252.89" y="596.1" width="15.81" height="263" fill="#000"/><rect x="268.7" y="552.2" width="15.81" height="306.9" fill="#000"/><rect x="284.51" y="558.9" width="15.81" height="300.2" fill="#000"/><rect x="300.32" y="568.8" width="15.81" height="290.3" fill="#000"/><rect x="316.13" y="581" width="15.81" height="278.1" fill="#000"/><rect x="331.94" y="594" width="15.81" height="265.1" fill="#000"/><rect x="347.75" y="606.9" width="15.81" height="252.2" fill="#000"/><rect x="363.56" y="618.8" width="15.81" height="240.3" fill="#000"/><rect x="379.37" y="628.9" width="15.81" height="230.2" fill="#000"/><rect x="395.18" y="638.9" width="15.81" height="220.2" fill="#000"/><rect x="410.99" y="646.1" width="15.81" height="213" fill="#000"/><rect x="426.8" y="554.9" width="15.81" height="304.2" fill="#000"/><rect x="442.61" y="566.1" width="15.81" height="293" fill="#000"/><rect x="458.42" y="581.9" width="15.81" height="277.2" fill="#000"/><rect x="474.23" y="599" width="15.81" height="260.1" fill="#000"/><rect x="490.04" y="616.8" width="15.81" height="242.3" fill="#000"/><rect x="505.85" y="633.9" width="15.81" height="225.2" fill="#000"/><rect x="521.66" y="649" width="15.81" height="210.1" fill="#000"/><rect x="537.47" y="662" width="15.81" height="197.1" fill="#000"/><rect x="553.28" y="671.9" width="15.81" height="187.2" fill="#000"/><rect x="569.09" y="679.8" width="15.81" height="179.3" fill="#000"/><rect x="584.9" y="554.1" width="15.81" height="305" fill="#000"/><rect x="600.71" y="569" width="15.81" height="290.1" fill="#000"/><rect x="616.52" y="589.9" width="15.81" height="269.2" fill="#000"/><rect x="632.33" y="613" width="15.81" height="246.1" fill="#000"/><rect x="648.14" y="635.3" width="15.81" height="223.8" fill="#000"/><rect x="663.95" y="654.9" width="15.81" height="204.2" fill="#000"/><rect x="679.76" y="672.1" width="15.81" height="187" fill="#000"/><rect x="695.57" y="686" width="15.81" height="173.1" fill="#000"/><rect x="711.38" y="697" width="15.81" height="162.1" fill="#000"/><rect x="727.19" y="706" width="15.81" height="153.1" fill="#000"/></clipPath>
<g clip-path="url(#clipb)">
<rect x="110.6" y="857.75" width="632.4" height="3.3" fill="#000" fill-opacity="0.3"/>
<rect x="110.6" y="845.4" width="632.4" height="3.3" fill="#000" fill-opacity="0.3"/>
<rect x="110.6" y="846.4" width="632.4" height="1.3" fill="#9a9a9a"/>
<rect x="110.6" y="833.05" width="632.4" height="3.3" fill="#000" fill-opacity="0.3"/>
<rect x="110.6" y="834.05" width="632.4" height="1.3" fill="#9a9a9a"/>
<rect x="110.6" y="820.7" width="632.4" height="3.3" fill="#000" fill-opacity="0.3"/>
<rect x="110.6" y="821.7" width="632.4" height="1.3" fill="#9a9a9a"/>
<rect x="110.6" y="808.35" width="632.4" height="3.3" fill="#000" fill-opacity="0.3"/>
<rect x="110.6" y="809.35" width="632.4" height="1.3" fill="#9a9a9a"/>
<rect x="110.6" y="796" width="632.4" height="3.3" fill="#000" fill-opacity="0.3"/>
<rect x="110.6" y="797" width="632.4" height="1.3" fill="#9a9a9a"/>
<rect x="110.6" y="783.65" width="632.4" height="3.3" fill="#000" fill-opacity="0.3"/>
<rect x="110.6" y="784.65" width="632.4" height="1.3" fill="#9a9a9a"/>
<rect x="110.6" y="771.3" width="632.4" height="3.3" fill="#000" fill-opacity="0.3"/>
<rect x="110.6" y="772.3" width="632.4" height="1.3" fill="#9a9a9a"/>
<rect x="110.6" y="758.95" width="632.4" height="3.3" fill="#000" fill-opacity="0.3"/>
<rect x="110.6" y="759.95" width="632.4" height="1.3" fill="#9a9a9a"/>
<rect x="110.6" y="746.6" width="632.4" height="3.3" fill="#000" fill-opacity="0.3"/>
<rect x="110.6" y="747.6" width="632.4" height="1.3" fill="#9a9a9a"/>
<rect x="110.6" y="734.25" width="632.4" height="3.3" fill="#000" fill-opacity="0.3"/>
<rect x="110.6" y="735.25" width="632.4" height="1.3" fill="#9a9a9a"/>
<rect x="110.6" y="721.9" width="632.4" height="3.3" fill="#000" fill-opacity="0.3"/>
<rect x="110.6" y="722.9" width="632.4" height="1.3" fill="#f4f4f4"/>
<rect x="110.6" y="709.55" width="632.4" height="3.3" fill="#000" fill-opacity="0.3"/>
<rect x="110.6" y="710.55" width="632.4" height="1.3" fill="#9a9a9a"/>
<rect x="110.6" y="697.2" width="632.4" height="3.3" fill="#000" fill-opacity="0.3"/>
<rect x="110.6" y="698.2" width="632.4" height="1.3" fill="#9a9a9a"/>
<rect x="110.6" y="684.85" width="632.4" height="3.3" fill="#000" fill-opacity="0.3"/>
<rect x="110.6" y="685.85" width="632.4" height="1.3" fill="#9a9a9a"/>
<rect x="110.6" y="672.5" width="632.4" height="3.3" fill="#000" fill-opacity="0.3"/>
<rect x="110.6" y="673.5" width="632.4" height="1.3" fill="#f4f4f4"/>
<rect x="110.6" y="660.15" width="632.4" height="3.3" fill="#000" fill-opacity="0.3"/>
<rect x="110.6" y="661.15" width="632.4" height="1.3" fill="#9a9a9a"/>
<rect x="110.6" y="647.8" width="632.4" height="3.3" fill="#000" fill-opacity="0.3"/>
<rect x="110.6" y="648.8" width="632.4" height="1.3" fill="#9a9a9a"/>
<rect x="110.6" y="635.45" width="632.4" height="3.3" fill="#000" fill-opacity="0.3"/>
<rect x="110.6" y="636.45" width="632.4" height="1.3" fill="#9a9a9a"/>
<rect x="110.6" y="623.1" width="632.4" height="3.3" fill="#000" fill-opacity="0.3"/>
<rect x="110.6" y="624.1" width="632.4" height="1.3" fill="#9a9a9a"/>
<rect x="110.6" y="610.75" width="632.4" height="3.3" fill="#000" fill-opacity="0.3"/>
<rect x="110.6" y="611.75" width="632.4" height="1.3" fill="#9a9a9a"/>
<rect x="110.6" y="598.4" width="632.4" height="3.3" fill="#000" fill-opacity="0.3"/>
<rect x="110.6" y="599.4" width="632.4" height="1.3" fill="#9a9a9a"/>
<rect x="110.6" y="586.05" width="632.4" height="3.3" fill="#000" fill-opacity="0.3"/>
<rect x="110.6" y="587.05" width="632.4" height="1.3" fill="#9a9a9a"/>
<rect x="110.6" y="573.7" width="632.4" height="3.3" fill="#000" fill-opacity="0.3"/>
<rect x="110.6" y="574.7" width="632.4" height="1.3" fill="#9a9a9a"/>
<rect x="110.6" y="561.35" width="632.4" height="3.3" fill="#000" fill-opacity="0.3"/>
<rect x="110.6" y="562.35" width="632.4" height="1.3" fill="#9a9a9a"/>
<rect x="110.6" y="549" width="632.4" height="3.3" fill="#000" fill-opacity="0.3"/>
<rect x="110.6" y="550" width="632.4" height="1.3" fill="#9a9a9a"/>
<rect x="108.9" y="552.1" width="3.4" height="307" fill="#000" fill-opacity="0.12"/>
<rect x="109.9" y="552.1" width="1.4" height="307" fill="#9a9a9a"/>
<rect x="124.71" y="552.1" width="3.4" height="307" fill="#000" fill-opacity="0.12"/>
<rect x="125.71" y="552.1" width="1.4" height="307" fill="#9a9a9a"/>
<rect x="140.52" y="553.9" width="3.4" height="305.2" fill="#000" fill-opacity="0.12"/>
<rect x="141.52" y="553.9" width="1.4" height="305.2" fill="#9a9a9a"/>
<rect x="156.33" y="561" width="3.4" height="298.1" fill="#000" fill-opacity="0.12"/>
<rect x="157.33" y="561" width="1.4" height="298.1" fill="#9a9a9a"/>
<rect x="172.14" y="567" width="3.4" height="292.1" fill="#000" fill-opacity="0.12"/>
<rect x="173.14" y="567" width="1.4" height="292.1" fill="#9a9a9a"/>
<rect x="187.95" y="568.8" width="3.4" height="290.3" fill="#000" fill-opacity="0.12"/>
<rect x="188.95" y="568.8" width="1.4" height="290.3" fill="#9a9a9a"/>
<rect x="203.76" y="575.1" width="3.4" height="284" fill="#000" fill-opacity="0.12"/>
<rect x="204.76" y="575.1" width="1.4" height="284" fill="#9a9a9a"/>
<rect x="219.57" y="581" width="3.4" height="278.1" fill="#000" fill-opacity="0.12"/>
<rect x="220.57" y="581" width="1.4" height="278.1" fill="#9a9a9a"/>
<rect x="235.38" y="587.1" width="3.4" height="272" fill="#000" fill-opacity="0.12"/>
<rect x="236.38" y="587.1" width="1.4" height="272" fill="#9a9a9a"/>
<rect x="251.19" y="590.9" width="3.4" height="268.2" fill="#000" fill-opacity="0.12"/>
<rect x="252.19" y="590.9" width="1.4" height="268.2" fill="#9a9a9a"/>
<rect x="267" y="552.2" width="3.4" height="306.9" fill="#000" fill-opacity="0.12"/>
<rect x="268" y="552.2" width="1.4" height="306.9" fill="#9a9a9a"/>
<rect x="282.81" y="552.2" width="3.4" height="306.9" fill="#000" fill-opacity="0.12"/>
<rect x="283.81" y="552.2" width="1.4" height="306.9" fill="#9a9a9a"/>
<rect x="298.62" y="558.9" width="3.4" height="300.2" fill="#000" fill-opacity="0.12"/>
<rect x="299.62" y="558.9" width="1.4" height="300.2" fill="#9a9a9a"/>
<rect x="314.43" y="568.8" width="3.4" height="290.3" fill="#000" fill-opacity="0.12"/>
<rect x="315.43" y="568.8" width="1.4" height="290.3" fill="#9a9a9a"/>
<rect x="330.24" y="581" width="3.4" height="278.1" fill="#000" fill-opacity="0.12"/>
<rect x="331.24" y="581" width="1.4" height="278.1" fill="#9a9a9a"/>
<rect x="346.05" y="594" width="3.4" height="265.1" fill="#000" fill-opacity="0.12"/>
<rect x="347.05" y="594" width="1.4" height="265.1" fill="#9a9a9a"/>
<rect x="361.86" y="606.9" width="3.4" height="252.2" fill="#000" fill-opacity="0.12"/>
<rect x="362.86" y="606.9" width="1.4" height="252.2" fill="#9a9a9a"/>
<rect x="377.67" y="618.8" width="3.4" height="240.3" fill="#000" fill-opacity="0.12"/>
<rect x="378.67" y="618.8" width="1.4" height="240.3" fill="#9a9a9a"/>
<rect x="393.48" y="628.9" width="3.4" height="230.2" fill="#000" fill-opacity="0.12"/>
<rect x="394.48" y="628.9" width="1.4" height="230.2" fill="#9a9a9a"/>
<rect x="409.29" y="638.9" width="3.4" height="220.2" fill="#000" fill-opacity="0.12"/>
<rect x="410.29" y="638.9" width="1.4" height="220.2" fill="#9a9a9a"/>
<rect x="425.1" y="554.9" width="3.4" height="304.2" fill="#000" fill-opacity="0.12"/>
<rect x="426.1" y="554.9" width="1.4" height="304.2" fill="#9a9a9a"/>
<rect x="440.91" y="554.9" width="3.4" height="304.2" fill="#000" fill-opacity="0.12"/>
<rect x="441.91" y="554.9" width="1.4" height="304.2" fill="#9a9a9a"/>
<rect x="456.72" y="566.1" width="3.4" height="293" fill="#000" fill-opacity="0.12"/>
<rect x="457.72" y="566.1" width="1.4" height="293" fill="#9a9a9a"/>
<rect x="472.53" y="581.9" width="3.4" height="277.2" fill="#000" fill-opacity="0.12"/>
<rect x="473.53" y="581.9" width="1.4" height="277.2" fill="#9a9a9a"/>
<rect x="488.34" y="599" width="3.4" height="260.1" fill="#000" fill-opacity="0.12"/>
<rect x="489.34" y="599" width="1.4" height="260.1" fill="#9a9a9a"/>
<rect x="504.15" y="616.8" width="3.4" height="242.3" fill="#000" fill-opacity="0.12"/>
<rect x="505.15" y="616.8" width="1.4" height="242.3" fill="#9a9a9a"/>
<rect x="519.96" y="633.9" width="3.4" height="225.2" fill="#000" fill-opacity="0.12"/>
<rect x="520.96" y="633.9" width="1.4" height="225.2" fill="#9a9a9a"/>
<rect x="535.77" y="649" width="3.4" height="210.1" fill="#000" fill-opacity="0.12"/>
<rect x="536.77" y="649" width="1.4" height="210.1" fill="#9a9a9a"/>
<rect x="551.58" y="662" width="3.4" height="197.1" fill="#000" fill-opacity="0.12"/>
<rect x="552.58" y="662" width="1.4" height="197.1" fill="#9a9a9a"/>
<rect x="567.39" y="671.9" width="3.4" height="187.2" fill="#000" fill-opacity="0.12"/>
<rect x="568.39" y="671.9" width="1.4" height="187.2" fill="#9a9a9a"/>
<rect x="583.2" y="554.1" width="3.4" height="305" fill="#000" fill-opacity="0.12"/>
<rect x="584.2" y="554.1" width="1.4" height="305" fill="#9a9a9a"/>
<rect x="599.01" y="554.1" width="3.4" height="305" fill="#000" fill-opacity="0.12"/>
<rect x="600.01" y="554.1" width="1.4" height="305" fill="#9a9a9a"/>
<rect x="614.82" y="569" width="3.4" height="290.1" fill="#000" fill-opacity="0.12"/>
<rect x="615.82" y="569" width="1.4" height="290.1" fill="#9a9a9a"/>
<rect x="630.63" y="589.9" width="3.4" height="269.2" fill="#000" fill-opacity="0.12"/>
<rect x="631.63" y="589.9" width="1.4" height="269.2" fill="#9a9a9a"/>
<rect x="646.44" y="613" width="3.4" height="246.1" fill="#000" fill-opacity="0.12"/>
<rect x="647.44" y="613" width="1.4" height="246.1" fill="#9a9a9a"/>
<rect x="662.25" y="635.3" width="3.4" height="223.8" fill="#000" fill-opacity="0.12"/>
<rect x="663.25" y="635.3" width="1.4" height="223.8" fill="#9a9a9a"/>
<rect x="678.06" y="654.9" width="3.4" height="204.2" fill="#000" fill-opacity="0.12"/>
<rect x="679.06" y="654.9" width="1.4" height="204.2" fill="#9a9a9a"/>
<rect x="693.87" y="672.1" width="3.4" height="187" fill="#000" fill-opacity="0.12"/>
<rect x="694.87" y="672.1" width="1.4" height="187" fill="#9a9a9a"/>
<rect x="709.68" y="686" width="3.4" height="173.1" fill="#000" fill-opacity="0.12"/>
<rect x="710.68" y="686" width="1.4" height="173.1" fill="#9a9a9a"/>
<rect x="725.49" y="697" width="3.4" height="162.1" fill="#000" fill-opacity="0.12"/>
<rect x="726.49" y="697" width="1.4" height="162.1" fill="#9a9a9a"/>
<rect x="741.3" y="706" width="3.4" height="153.1" fill="#000" fill-opacity="0.12"/>
<rect x="742.3" y="706" width="1.4" height="153.1" fill="#9a9a9a"/>
</g>
<rect x="109.9" y="552.1" width="0.7" height="307" fill="#9a9a9a"/>
<rect x="743" y="706" width="0.7" height="153.1" fill="#9a9a9a"/>
<rect x="118" y="854.8" width="1" height="4.3" fill="#626262"/>
<rect x="118" y="536.4" width="1" height="4" fill="#626262"/>
<rect x="134" y="854.8" width="1" height="4.3" fill="#626262"/>
<rect x="134" y="536.4" width="1" height="4" fill="#626262"/>
<rect x="150" y="854.8" width="1" height="4.3" fill="#626262"/>
<rect x="150" y="536.4" width="1" height="4" fill="#626262"/>
<rect x="165" y="854.8" width="1" height="4.3" fill="#626262"/>
<rect x="165" y="536.4" width="1" height="4" fill="#626262"/>
<rect x="181" y="854.8" width="1" height="4.3" fill="#626262"/>
<rect x="181" y="536.4" width="1" height="4" fill="#626262"/>
<rect x="197" y="854.8" width="1" height="4.3" fill="#626262"/>
<rect x="197" y="536.4" width="1" height="4" fill="#626262"/>
<rect x="213" y="854.8" width="1" height="4.3" fill="#626262"/>
<rect x="213" y="536.4" width="1" height="4" fill="#626262"/>
<rect x="229" y="854.8" width="1" height="4.3" fill="#626262"/>
<rect x="229" y="536.4" width="1" height="4" fill="#626262"/>
<rect x="244" y="854.8" width="1" height="4.3" fill="#626262"/>
<rect x="244" y="536.4" width="1" height="4" fill="#626262"/>
<rect x="260" y="854.8" width="1" height="4.3" fill="#626262"/>
<rect x="260" y="536.4" width="1" height="4" fill="#626262"/>
<rect x="276" y="854.8" width="1" height="4.3" fill="#626262"/>
<rect x="276" y="536.4" width="1" height="4" fill="#626262"/>
<rect x="292" y="854.8" width="1" height="4.3" fill="#626262"/>
<rect x="292" y="536.4" width="1" height="4" fill="#626262"/>
<rect x="308" y="854.8" width="1" height="4.3" fill="#626262"/>
<rect x="308" y="536.4" width="1" height="4" fill="#626262"/>
<rect x="324" y="854.8" width="1" height="4.3" fill="#626262"/>
<rect x="324" y="536.4" width="1" height="4" fill="#626262"/>
<rect x="339" y="854.8" width="1" height="4.3" fill="#626262"/>
<rect x="339" y="536.4" width="1" height="4" fill="#626262"/>
<rect x="355" y="854.8" width="1" height="4.3" fill="#626262"/>
<rect x="355" y="536.4" width="1" height="4" fill="#626262"/>
<rect x="371" y="854.8" width="1" height="4.3" fill="#626262"/>
<rect x="371" y="536.4" width="1" height="4" fill="#626262"/>
<rect x="387" y="854.8" width="1" height="4.3" fill="#626262"/>
<rect x="387" y="536.4" width="1" height="4" fill="#626262"/>
<rect x="403" y="854.8" width="1" height="4.3" fill="#626262"/>
<rect x="403" y="536.4" width="1" height="4" fill="#626262"/>
<rect x="418" y="854.8" width="1" height="4.3" fill="#626262"/>
<rect x="418" y="536.4" width="1" height="4" fill="#626262"/>
<rect x="434" y="854.8" width="1" height="4.3" fill="#626262"/>
<rect x="434" y="536.4" width="1" height="4" fill="#626262"/>
<rect x="450" y="854.8" width="1" height="4.3" fill="#626262"/>
<rect x="450" y="536.4" width="1" height="4" fill="#626262"/>
<rect x="466" y="854.8" width="1" height="4.3" fill="#626262"/>
<rect x="466" y="536.4" width="1" height="4" fill="#626262"/>
<rect x="482" y="854.8" width="1" height="4.3" fill="#626262"/>
<rect x="482" y="536.4" width="1" height="4" fill="#626262"/>
<rect x="497" y="854.8" width="1" height="4.3" fill="#626262"/>
<rect x="497" y="536.4" width="1" height="4" fill="#626262"/>
<rect x="513" y="854.8" width="1" height="4.3" fill="#626262"/>
<rect x="513" y="536.4" width="1" height="4" fill="#626262"/>
<rect x="529" y="854.8" width="1" height="4.3" fill="#626262"/>
<rect x="529" y="536.4" width="1" height="4" fill="#626262"/>
<rect x="545" y="854.8" width="1" height="4.3" fill="#626262"/>
<rect x="545" y="536.4" width="1" height="4" fill="#626262"/>
<rect x="561" y="854.8" width="1" height="4.3" fill="#626262"/>
<rect x="561" y="536.4" width="1" height="4" fill="#626262"/>
<rect x="576" y="854.8" width="1" height="4.3" fill="#626262"/>
<rect x="576" y="536.4" width="1" height="4" fill="#626262"/>
<rect x="592" y="854.8" width="1" height="4.3" fill="#626262"/>
<rect x="592" y="536.4" width="1" height="4" fill="#626262"/>
<rect x="608" y="854.8" width="1" height="4.3" fill="#626262"/>
<rect x="608" y="536.4" width="1" height="4" fill="#626262"/>
<rect x="624" y="854.8" width="1" height="4.3" fill="#626262"/>
<rect x="624" y="536.4" width="1" height="4" fill="#626262"/>
<rect x="640" y="854.8" width="1" height="4.3" fill="#626262"/>
<rect x="640" y="536.4" width="1" height="4" fill="#626262"/>
<rect x="656" y="854.8" width="1" height="4.3" fill="#626262"/>
<rect x="656" y="536.4" width="1" height="4" fill="#626262"/>
<rect x="671" y="854.8" width="1" height="4.3" fill="#626262"/>
<rect x="671" y="536.4" width="1" height="4" fill="#626262"/>
<rect x="687" y="854.8" width="1" height="4.3" fill="#626262"/>
<rect x="687" y="536.4" width="1" height="4" fill="#626262"/>
<rect x="703" y="854.8" width="1" height="4.3" fill="#626262"/>
<rect x="703" y="536.4" width="1" height="4" fill="#626262"/>
<rect x="719" y="854.8" width="1" height="4.3" fill="#626262"/>
<rect x="719" y="536.4" width="1" height="4" fill="#626262"/>
<rect x="735" y="854.8" width="1" height="4.3" fill="#626262"/>
<rect x="735" y="536.4" width="1" height="4" fill="#626262"/>
<rect x="84" y="859" width="8.5" height="1" fill="#626262"/>
<rect x="748.8" y="859" width="8.5" height="1" fill="#626262"/>
<rect x="84" y="843" width="5.3" height="1" fill="#626262"/>
<rect x="752" y="843" width="5.3" height="1" fill="#626262"/>
<rect x="84" y="828" width="5.3" height="1" fill="#626262"/>
<rect x="752" y="828" width="5.3" height="1" fill="#626262"/>
<rect x="84" y="812" width="5.3" height="1" fill="#626262"/>
<rect x="752" y="812" width="5.3" height="1" fill="#626262"/>
<rect x="84" y="797" width="8.5" height="1" fill="#626262"/>
<rect x="748.8" y="797" width="8.5" height="1" fill="#626262"/>
<rect x="84" y="782" width="5.3" height="1" fill="#626262"/>
<rect x="752" y="782" width="5.3" height="1" fill="#626262"/>
<rect x="84" y="766" width="5.3" height="1" fill="#626262"/>
<rect x="752" y="766" width="5.3" height="1" fill="#626262"/>
<rect x="84" y="751" width="5.3" height="1" fill="#626262"/>
<rect x="752" y="751" width="5.3" height="1" fill="#626262"/>
<rect x="84" y="736" width="8.5" height="1" fill="#626262"/>
<rect x="748.8" y="736" width="8.5" height="1" fill="#626262"/>
<rect x="84" y="720" width="5.3" height="1" fill="#626262"/>
<rect x="752" y="720" width="5.3" height="1" fill="#626262"/>
<rect x="84" y="705" width="5.3" height="1" fill="#b4b4b4"/>
<rect x="752" y="705" width="5.3" height="1" fill="#b4b4b4"/>
<rect x="84" y="689" width="5.3" height="1" fill="#626262"/>
<rect x="752" y="689" width="5.3" height="1" fill="#626262"/>
<rect x="84" y="674" width="8.5" height="1" fill="#626262"/>
<rect x="748.8" y="674" width="8.5" height="1" fill="#626262"/>
<rect x="84" y="659" width="5.3" height="1" fill="#626262"/>
<rect x="752" y="659" width="5.3" height="1" fill="#626262"/>
<rect x="84" y="643" width="5.3" height="1" fill="#b4b4b4"/>
<rect x="752" y="643" width="5.3" height="1" fill="#b4b4b4"/>
<rect x="84" y="628" width="5.3" height="1" fill="#626262"/>
<rect x="752" y="628" width="5.3" height="1" fill="#626262"/>
<rect x="84" y="613" width="8.5" height="1" fill="#626262"/>
<rect x="748.8" y="613" width="8.5" height="1" fill="#626262"/>
<rect x="84" y="597" width="5.3" height="1" fill="#626262"/>
<rect x="752" y="597" width="5.3" height="1" fill="#626262"/>
<rect x="84" y="582" width="5.3" height="1" fill="#626262"/>
<rect x="752" y="582" width="5.3" height="1" fill="#626262"/>
<rect x="84" y="566" width="5.3" height="1" fill="#626262"/>
<rect x="752" y="566" width="5.3" height="1" fill="#626262"/>
<rect x="84" y="551" width="8.5" height="1" fill="#626262"/>
<rect x="748.8" y="551" width="8.5" height="1" fill="#626262"/>
<rect x="83.15" y="535.6" width="1.7" height="324.2" fill="#5e5e5e"/>
<rect x="83.15" y="535.6" width="674.7" height="1.6" fill="#5e5e5e"/>
<rect x="756.75" y="535.6" width="1.1" height="324.2" fill="#747474"/>
<rect x="83.15" y="858.4" width="674.7" height="1.4" fill="#5e5e5e"/>
<rect x="793.4" y="506.1" width="25.4" height="19.4" fill="#ff0000"/>
<rect x="793.9" y="506.6" width="24.4" height="18.4" fill="none" stroke="#000" stroke-opacity="0.42" stroke-width="1"/>
<rect x="793.4" y="545.6" width="25.4" height="19.4" fill="#00ff00"/>
<rect x="793.9" y="546.1" width="24.4" height="18.4" fill="none" stroke="#000" stroke-opacity="0.42" stroke-width="1"/>
<rect x="793.4" y="585.1" width="25.4" height="19.4" fill="#0000ff"/>
<rect x="793.9" y="585.6" width="24.4" height="18.4" fill="none" stroke="#000" stroke-opacity="0.42" stroke-width="1"/>
<rect x="793.4" y="624.6" width="25.4" height="19.4" fill="#808080"/>
<rect x="793.9" y="625.1" width="24.4" height="18.4" fill="none" stroke="#000" stroke-opacity="0.42" stroke-width="1"/>
<rect x="793.4" y="664.1" width="25.4" height="19.4" fill="#00ffff"/>
<rect x="793.9" y="664.6" width="24.4" height="18.4" fill="none" stroke="#000" stroke-opacity="0.42" stroke-width="1"/>
<rect x="793.4" y="703.6" width="25.4" height="19.4" fill="#ff00ff"/>
<rect x="793.9" y="704.1" width="24.4" height="18.4" fill="none" stroke="#000" stroke-opacity="0.42" stroke-width="1"/>
<rect x="793.4" y="743.1" width="25.4" height="19.4" fill="#ffff00"/>
<rect x="793.9" y="743.6" width="24.4" height="18.4" fill="none" stroke="#000" stroke-opacity="0.42" stroke-width="1"/>
<rect x="793.4" y="782.6" width="25.4" height="19.4" fill="#ff8000"/>
<rect x="793.9" y="783.1" width="24.4" height="18.4" fill="none" stroke="#000" stroke-opacity="0.42" stroke-width="1"/>
<rect x="793.4" y="822.1" width="25.4" height="19.4" fill="#996633"/>
<rect x="793.9" y="822.6" width="24.4" height="18.4" fill="none" stroke="#000" stroke-opacity="0.42" stroke-width="1"/>
<rect x="793.4" y="861.6" width="25.4" height="19.4" fill="#000000"/>
<rect x="793.9" y="862.1" width="24.4" height="18.4" fill="none" stroke="#000" stroke-opacity="0.42" stroke-width="1"/>
<rect x="91.1" y="1105" width="670.2" height="1" fill="#cdcdcd"/>
<rect x="91.1" y="1182" width="670.2" height="1" fill="#cdcdcd"/>
<rect x="91.1" y="1259" width="670.2" height="1" fill="#cdcdcd"/>
<rect x="117.6" y="1182.7" width="15.74" height="154.4" fill="#ff0000"/>
<rect x="133.34" y="1182.7" width="15.74" height="154.4" fill="#00ff00"/>
<rect x="149.08" y="1178" width="15.74" height="159.1" fill="#0000ff"/>
<rect x="164.82" y="1173.2" width="15.74" height="163.9" fill="#808080"/>
<rect x="180.56" y="1171.9" width="15.74" height="165.2" fill="#00ffff"/>
<rect x="196.3" y="1166.9" width="15.74" height="170.2" fill="#ff00ff"/>
<rect x="212.04" y="1162.4" width="15.74" height="174.7" fill="#ffff00"/>
<rect x="227.78" y="1156.1" width="15.74" height="181" fill="#ff8000"/>
<rect x="243.52" y="1151" width="15.74" height="186.1" fill="#996633"/>
<rect x="259.26" y="1145.8" width="15.74" height="191.3" fill="#000000"/>
<rect x="275" y="1186.2" width="15.74" height="150.9" fill="#ff0000"/>
<rect x="290.74" y="1184" width="15.74" height="153.1" fill="#00ff00"/>
<rect x="306.48" y="1178.1" width="15.74" height="159" fill="#0000ff"/>
<rect x="322.22" y="1169.1" width="15.74" height="168" fill="#808080"/>
<rect x="337.96" y="1157" width="15.74" height="180.1" fill="#00ffff"/>
<rect x="353.7" y="1145" width="15.74" height="192.1" fill="#ff00ff"/>
<rect x="369.44" y="1132" width="15.74" height="205.1" fill="#ffff00"/>
<rect x="385.18" y="1118.9" width="15.74" height="218.2" fill="#ff8000"/>
<rect x="400.92" y="1105.9" width="15.74" height="231.2" fill="#996633"/>
<rect x="416.66" y="1095" width="15.74" height="242.1" fill="#000000"/>
<rect x="432.4" y="1188.9" width="15.74" height="148.2" fill="#ff0000"/>
<rect x="448.14" y="1187.1" width="15.74" height="150" fill="#00ff00"/>
<rect x="463.88" y="1178" width="15.74" height="159.1" fill="#0000ff"/>
<rect x="479.62" y="1165" width="15.74" height="172.1" fill="#808080"/>
<rect x="495.36" y="1147.9" width="15.74" height="189.2" fill="#00ffff"/>
<rect x="511.1" y="1130.8" width="15.74" height="206.3" fill="#ff00ff"/>
<rect x="526.84" y="1112.9" width="15.74" height="224.2" fill="#ffff00"/>
<rect x="542.58" y="1094.9" width="15.74" height="242.2" fill="#ff8000"/>
<rect x="558.32" y="1079" width="15.74" height="258.1" fill="#996633"/>
<rect x="574.06" y="1063.9" width="15.74" height="273.2" fill="#000000"/>
<rect x="589.8" y="1191.2" width="15.74" height="145.9" fill="#ff0000"/>
<rect x="605.54" y="1187.4" width="15.74" height="149.7" fill="#00ff00"/>
<rect x="621.28" y="1173.1" width="15.74" height="164" fill="#0000ff"/>
<rect x="637.02" y="1153.1" width="15.74" height="184" fill="#808080"/>
<rect x="652.76" y="1130.8" width="15.74" height="206.3" fill="#00ffff"/>
<rect x="668.5" y="1107" width="15.74" height="230.1" fill="#ff00ff"/>
<rect x="684.24" y="1084" width="15.74" height="253.1" fill="#ffff00"/>
<rect x="699.98" y="1063.2" width="15.74" height="273.9" fill="#ff8000"/>
<rect x="715.72" y="1044.1" width="15.74" height="293" fill="#996633"/>
<rect x="731.46" y="1028" width="15.74" height="309.1" fill="#000000"/>
<clipPath id="clipc"><rect x="117.6" y="1182.7" width="15.74" height="154.4" fill="#000"/><rect x="133.34" y="1182.7" width="15.74" height="154.4" fill="#000"/><rect x="149.08" y="1178" width="15.74" height="159.1" fill="#000"/><rect x="164.82" y="1173.2" width="15.74" height="163.9" fill="#000"/><rect x="180.56" y="1171.9" width="15.74" height="165.2" fill="#000"/><rect x="196.3" y="1166.9" width="15.74" height="170.2" fill="#000"/><rect x="212.04" y="1162.4" width="15.74" height="174.7" fill="#000"/><rect x="227.78" y="1156.1" width="15.74" height="181" fill="#000"/><rect x="243.52" y="1151" width="15.74" height="186.1" fill="#000"/><rect x="259.26" y="1145.8" width="15.74" height="191.3" fill="#000"/><rect x="275" y="1186.2" width="15.74" height="150.9" fill="#000"/><rect x="290.74" y="1184" width="15.74" height="153.1" fill="#000"/><rect x="306.48" y="1178.1" width="15.74" height="159" fill="#000"/><rect x="322.22" y="1169.1" width="15.74" height="168" fill="#000"/><rect x="337.96" y="1157" width="15.74" height="180.1" fill="#000"/><rect x="353.7" y="1145" width="15.74" height="192.1" fill="#000"/><rect x="369.44" y="1132" width="15.74" height="205.1" fill="#000"/><rect x="385.18" y="1118.9" width="15.74" height="218.2" fill="#000"/><rect x="400.92" y="1105.9" width="15.74" height="231.2" fill="#000"/><rect x="416.66" y="1095" width="15.74" height="242.1" fill="#000"/><rect x="432.4" y="1188.9" width="15.74" height="148.2" fill="#000"/><rect x="448.14" y="1187.1" width="15.74" height="150" fill="#000"/><rect x="463.88" y="1178" width="15.74" height="159.1" fill="#000"/><rect x="479.62" y="1165" width="15.74" height="172.1" fill="#000"/><rect x="495.36" y="1147.9" width="15.74" height="189.2" fill="#000"/><rect x="511.1" y="1130.8" width="15.74" height="206.3" fill="#000"/><rect x="526.84" y="1112.9" width="15.74" height="224.2" fill="#000"/><rect x="542.58" y="1094.9" width="15.74" height="242.2" fill="#000"/><rect x="558.32" y="1079" width="15.74" height="258.1" fill="#000"/><rect x="574.06" y="1063.9" width="15.74" height="273.2" fill="#000"/><rect x="589.8" y="1191.2" width="15.74" height="145.9" fill="#000"/><rect x="605.54" y="1187.4" width="15.74" height="149.7" fill="#000"/><rect x="621.28" y="1173.1" width="15.74" height="164" fill="#000"/><rect x="637.02" y="1153.1" width="15.74" height="184" fill="#000"/><rect x="652.76" y="1130.8" width="15.74" height="206.3" fill="#000"/><rect x="668.5" y="1107" width="15.74" height="230.1" fill="#000"/><rect x="684.24" y="1084" width="15.74" height="253.1" fill="#000"/><rect x="699.98" y="1063.2" width="15.74" height="273.9" fill="#000"/><rect x="715.72" y="1044.1" width="15.74" height="293" fill="#000"/><rect x="731.46" y="1028" width="15.74" height="309.1" fill="#000"/></clipPath>
<g clip-path="url(#clipc)">
<rect x="117.6" y="1335.45" width="629.6" height="3.3" fill="#000" fill-opacity="0.3"/>
<rect x="117.6" y="1323" width="629.6" height="3.3" fill="#000" fill-opacity="0.3"/>
<rect x="117.6" y="1324" width="629.6" height="1.3" fill="#9a9a9a"/>
<rect x="117.6" y="1310.55" width="629.6" height="3.3" fill="#000" fill-opacity="0.3"/>
<rect x="117.6" y="1311.55" width="629.6" height="1.3" fill="#9a9a9a"/>
<rect x="117.6" y="1298.1" width="629.6" height="3.3" fill="#000" fill-opacity="0.3"/>
<rect x="117.6" y="1299.1" width="629.6" height="1.3" fill="#9a9a9a"/>
<rect x="117.6" y="1285.65" width="629.6" height="3.3" fill="#000" fill-opacity="0.3"/>
<rect x="117.6" y="1286.65" width="629.6" height="1.3" fill="#9a9a9a"/>
<rect x="117.6" y="1273.2" width="629.6" height="3.3" fill="#000" fill-opacity="0.3"/>
<rect x="117.6" y="1274.2" width="629.6" height="1.3" fill="#9a9a9a"/>
<rect x="117.6" y="1260.75" width="629.6" height="3.3" fill="#000" fill-opacity="0.3"/>
<rect x="117.6" y="1261.75" width="629.6" height="1.3" fill="#9a9a9a"/>
<rect x="117.6" y="1248.3" width="629.6" height="3.3" fill="#000" fill-opacity="0.3"/>
<rect x="117.6" y="1249.3" width="629.6" height="1.3" fill="#9a9a9a"/>
<rect x="117.6" y="1235.85" width="629.6" height="3.3" fill="#000" fill-opacity="0.3"/>
<rect x="117.6" y="1236.85" width="629.6" height="1.3" fill="#9a9a9a"/>
<rect x="117.6" y="1223.4" width="629.6" height="3.3" fill="#000" fill-opacity="0.3"/>
<rect x="117.6" y="1224.4" width="629.6" height="1.3" fill="#9a9a9a"/>
<rect x="117.6" y="1210.95" width="629.6" height="3.3" fill="#000" fill-opacity="0.3"/>
<rect x="117.6" y="1211.95" width="629.6" height="1.3" fill="#9a9a9a"/>
<rect x="117.6" y="1198.5" width="629.6" height="3.3" fill="#000" fill-opacity="0.3"/>
<rect x="117.6" y="1199.5" width="629.6" height="1.3" fill="#f4f4f4"/>
<rect x="117.6" y="1186.05" width="629.6" height="3.3" fill="#000" fill-opacity="0.3"/>
<rect x="117.6" y="1187.05" width="629.6" height="1.3" fill="#9a9a9a"/>
<rect x="117.6" y="1173.6" width="629.6" height="3.3" fill="#000" fill-opacity="0.3"/>
<rect x="117.6" y="1174.6" width="629.6" height="1.3" fill="#9a9a9a"/>
<rect x="117.6" y="1161.15" width="629.6" height="3.3" fill="#000" fill-opacity="0.3"/>
<rect x="117.6" y="1162.15" width="629.6" height="1.3" fill="#9a9a9a"/>
<rect x="117.6" y="1148.7" width="629.6" height="3.3" fill="#000" fill-opacity="0.3"/>
<rect x="117.6" y="1149.7" width="629.6" height="1.3" fill="#9a9a9a"/>
<rect x="117.6" y="1136.25" width="629.6" height="3.3" fill="#000" fill-opacity="0.3"/>
<rect x="117.6" y="1137.25" width="629.6" height="1.3" fill="#9a9a9a"/>
<rect x="117.6" y="1123.8" width="629.6" height="3.3" fill="#000" fill-opacity="0.3"/>
<rect x="117.6" y="1124.8" width="629.6" height="1.3" fill="#9a9a9a"/>
<rect x="117.6" y="1111.35" width="629.6" height="3.3" fill="#000" fill-opacity="0.3"/>
<rect x="117.6" y="1112.35" width="629.6" height="1.3" fill="#9a9a9a"/>
<rect x="117.6" y="1098.9" width="629.6" height="3.3" fill="#000" fill-opacity="0.3"/>
<rect x="117.6" y="1099.9" width="629.6" height="1.3" fill="#9a9a9a"/>
<rect x="117.6" y="1086.45" width="629.6" height="3.3" fill="#000" fill-opacity="0.3"/>
<rect x="117.6" y="1087.45" width="629.6" height="1.3" fill="#9a9a9a"/>
<rect x="117.6" y="1074" width="629.6" height="3.3" fill="#000" fill-opacity="0.3"/>
<rect x="117.6" y="1075" width="629.6" height="1.3" fill="#9a9a9a"/>
<rect x="117.6" y="1061.55" width="629.6" height="3.3" fill="#000" fill-opacity="0.3"/>
<rect x="117.6" y="1062.55" width="629.6" height="1.3" fill="#9a9a9a"/>
<rect x="117.6" y="1049.1" width="629.6" height="3.3" fill="#000" fill-opacity="0.3"/>
<rect x="117.6" y="1050.1" width="629.6" height="1.3" fill="#9a9a9a"/>
<rect x="117.6" y="1036.65" width="629.6" height="3.3" fill="#000" fill-opacity="0.3"/>
<rect x="117.6" y="1037.65" width="629.6" height="1.3" fill="#9a9a9a"/>
<rect x="117.6" y="1024.2" width="629.6" height="3.3" fill="#000" fill-opacity="0.3"/>
<rect x="117.6" y="1025.2" width="629.6" height="1.3" fill="#9a9a9a"/>
<rect x="115.9" y="1182.7" width="3.4" height="154.4" fill="#000" fill-opacity="0.12"/>
<rect x="116.9" y="1182.7" width="1.4" height="154.4" fill="#9a9a9a"/>
<rect x="131.64" y="1182.7" width="3.4" height="154.4" fill="#000" fill-opacity="0.12"/>
<rect x="132.64" y="1182.7" width="1.4" height="154.4" fill="#9a9a9a"/>
<rect x="147.38" y="1178" width="3.4" height="159.1" fill="#000" fill-opacity="0.12"/>
<rect x="148.38" y="1178" width="1.4" height="159.1" fill="#9a9a9a"/>
<rect x="163.12" y="1173.2" width="3.4" height="163.9" fill="#000" fill-opacity="0.12"/>
<rect x="164.12" y="1173.2" width="1.4" height="163.9" fill="#9a9a9a"/>
<rect x="178.86" y="1171.9" width="3.4" height="165.2" fill="#000" fill-opacity="0.12"/>
<rect x="179.86" y="1171.9" width="1.4" height="165.2" fill="#9a9a9a"/>
<rect x="194.6" y="1166.9" width="3.4" height="170.2" fill="#000" fill-opacity="0.12"/>
<rect x="195.6" y="1166.9" width="1.4" height="170.2" fill="#9a9a9a"/>
<rect x="210.34" y="1162.4" width="3.4" height="174.7" fill="#000" fill-opacity="0.12"/>
<rect x="211.34" y="1162.4" width="1.4" height="174.7" fill="#9a9a9a"/>
<rect x="226.08" y="1156.1" width="3.4" height="181" fill="#000" fill-opacity="0.12"/>
<rect x="227.08" y="1156.1" width="1.4" height="181" fill="#9a9a9a"/>
<rect x="241.82" y="1151" width="3.4" height="186.1" fill="#000" fill-opacity="0.12"/>
<rect x="242.82" y="1151" width="1.4" height="186.1" fill="#9a9a9a"/>
<rect x="257.56" y="1145.8" width="3.4" height="191.3" fill="#000" fill-opacity="0.12"/>
<rect x="258.56" y="1145.8" width="1.4" height="191.3" fill="#9a9a9a"/>
<rect x="273.3" y="1145.8" width="3.4" height="191.3" fill="#000" fill-opacity="0.12"/>
<rect x="274.3" y="1145.8" width="1.4" height="191.3" fill="#9a9a9a"/>
<rect x="289.04" y="1184" width="3.4" height="153.1" fill="#000" fill-opacity="0.12"/>
<rect x="290.04" y="1184" width="1.4" height="153.1" fill="#9a9a9a"/>
<rect x="304.78" y="1178.1" width="3.4" height="159" fill="#000" fill-opacity="0.12"/>
<rect x="305.78" y="1178.1" width="1.4" height="159" fill="#9a9a9a"/>
<rect x="320.52" y="1169.1" width="3.4" height="168" fill="#000" fill-opacity="0.12"/>
<rect x="321.52" y="1169.1" width="1.4" height="168" fill="#9a9a9a"/>
<rect x="336.26" y="1157" width="3.4" height="180.1" fill="#000" fill-opacity="0.12"/>
<rect x="337.26" y="1157" width="1.4" height="180.1" fill="#9a9a9a"/>
<rect x="352" y="1145" width="3.4" height="192.1" fill="#000" fill-opacity="0.12"/>
<rect x="353" y="1145" width="1.4" height="192.1" fill="#9a9a9a"/>
<rect x="367.74" y="1132" width="3.4" height="205.1" fill="#000" fill-opacity="0.12"/>
<rect x="368.74" y="1132" width="1.4" height="205.1" fill="#9a9a9a"/>
<rect x="383.48" y="1118.9" width="3.4" height="218.2" fill="#000" fill-opacity="0.12"/>
<rect x="384.48" y="1118.9" width="1.4" height="218.2" fill="#9a9a9a"/>
<rect x="399.22" y="1105.9" width="3.4" height="231.2" fill="#000" fill-opacity="0.12"/>
<rect x="400.22" y="1105.9" width="1.4" height="231.2" fill="#9a9a9a"/>
<rect x="414.96" y="1095" width="3.4" height="242.1" fill="#000" fill-opacity="0.12"/>
<rect x="415.96" y="1095" width="1.4" height="242.1" fill="#9a9a9a"/>
<rect x="430.7" y="1095" width="3.4" height="242.1" fill="#000" fill-opacity="0.12"/>
<rect x="431.7" y="1095" width="1.4" height="242.1" fill="#9a9a9a"/>
<rect x="446.44" y="1187.1" width="3.4" height="150" fill="#000" fill-opacity="0.12"/>
<rect x="447.44" y="1187.1" width="1.4" height="150" fill="#9a9a9a"/>
<rect x="462.18" y="1178" width="3.4" height="159.1" fill="#000" fill-opacity="0.12"/>
<rect x="463.18" y="1178" width="1.4" height="159.1" fill="#9a9a9a"/>
<rect x="477.92" y="1165" width="3.4" height="172.1" fill="#000" fill-opacity="0.12"/>
<rect x="478.92" y="1165" width="1.4" height="172.1" fill="#9a9a9a"/>
<rect x="493.66" y="1147.9" width="3.4" height="189.2" fill="#000" fill-opacity="0.12"/>
<rect x="494.66" y="1147.9" width="1.4" height="189.2" fill="#9a9a9a"/>
<rect x="509.4" y="1130.8" width="3.4" height="206.3" fill="#000" fill-opacity="0.12"/>
<rect x="510.4" y="1130.8" width="1.4" height="206.3" fill="#9a9a9a"/>
<rect x="525.14" y="1112.9" width="3.4" height="224.2" fill="#000" fill-opacity="0.12"/>
<rect x="526.14" y="1112.9" width="1.4" height="224.2" fill="#9a9a9a"/>
<rect x="540.88" y="1094.9" width="3.4" height="242.2" fill="#000" fill-opacity="0.12"/>
<rect x="541.88" y="1094.9" width="1.4" height="242.2" fill="#9a9a9a"/>
<rect x="556.62" y="1079" width="3.4" height="258.1" fill="#000" fill-opacity="0.12"/>
<rect x="557.62" y="1079" width="1.4" height="258.1" fill="#9a9a9a"/>
<rect x="572.36" y="1063.9" width="3.4" height="273.2" fill="#000" fill-opacity="0.12"/>
<rect x="573.36" y="1063.9" width="1.4" height="273.2" fill="#9a9a9a"/>
<rect x="588.1" y="1063.9" width="3.4" height="273.2" fill="#000" fill-opacity="0.12"/>
<rect x="589.1" y="1063.9" width="1.4" height="273.2" fill="#9a9a9a"/>
<rect x="603.84" y="1187.4" width="3.4" height="149.7" fill="#000" fill-opacity="0.12"/>
<rect x="604.84" y="1187.4" width="1.4" height="149.7" fill="#9a9a9a"/>
<rect x="619.58" y="1173.1" width="3.4" height="164" fill="#000" fill-opacity="0.12"/>
<rect x="620.58" y="1173.1" width="1.4" height="164" fill="#9a9a9a"/>
<rect x="635.32" y="1153.1" width="3.4" height="184" fill="#000" fill-opacity="0.12"/>
<rect x="636.32" y="1153.1" width="1.4" height="184" fill="#9a9a9a"/>
<rect x="651.06" y="1130.8" width="3.4" height="206.3" fill="#000" fill-opacity="0.12"/>
<rect x="652.06" y="1130.8" width="1.4" height="206.3" fill="#9a9a9a"/>
<rect x="666.8" y="1107" width="3.4" height="230.1" fill="#000" fill-opacity="0.12"/>
<rect x="667.8" y="1107" width="1.4" height="230.1" fill="#9a9a9a"/>
<rect x="682.54" y="1084" width="3.4" height="253.1" fill="#000" fill-opacity="0.12"/>
<rect x="683.54" y="1084" width="1.4" height="253.1" fill="#9a9a9a"/>
<rect x="698.28" y="1063.2" width="3.4" height="273.9" fill="#000" fill-opacity="0.12"/>
<rect x="699.28" y="1063.2" width="1.4" height="273.9" fill="#f4f4f4"/>
<rect x="714.02" y="1044.1" width="3.4" height="293" fill="#000" fill-opacity="0.12"/>
<rect x="715.02" y="1044.1" width="1.4" height="293" fill="#9a9a9a"/>
<rect x="729.76" y="1028" width="3.4" height="309.1" fill="#000" fill-opacity="0.12"/>
<rect x="730.76" y="1028" width="1.4" height="309.1" fill="#9a9a9a"/>
<rect x="745.5" y="1028" width="3.4" height="309.1" fill="#000" fill-opacity="0.12"/>
<rect x="746.5" y="1028" width="1.4" height="309.1" fill="#9a9a9a"/>
</g>
<rect x="116.9" y="1182.7" width="0.7" height="154.4" fill="#9a9a9a"/>
<rect x="747.2" y="1028" width="0.7" height="309.1" fill="#9a9a9a"/>
<rect x="125" y="1332.8" width="1" height="4.3" fill="#626262"/>
<rect x="125" y="1011.8" width="1" height="4" fill="#626262"/>
<rect x="141" y="1332.8" width="1" height="4.3" fill="#626262"/>
<rect x="141" y="1011.8" width="1" height="4" fill="#626262"/>
<rect x="156" y="1332.8" width="1" height="4.3" fill="#626262"/>
<rect x="156" y="1011.8" width="1" height="4" fill="#626262"/>
<rect x="172" y="1332.8" width="1" height="4.3" fill="#626262"/>
<rect x="172" y="1011.8" width="1" height="4" fill="#626262"/>
<rect x="188" y="1332.8" width="1" height="4.3" fill="#626262"/>
<rect x="188" y="1011.8" width="1" height="4" fill="#626262"/>
<rect x="204" y="1332.8" width="1" height="4.3" fill="#626262"/>
<rect x="204" y="1011.8" width="1" height="4" fill="#626262"/>
<rect x="219" y="1332.8" width="1" height="4.3" fill="#626262"/>
<rect x="219" y="1011.8" width="1" height="4" fill="#626262"/>
<rect x="235" y="1332.8" width="1" height="4.3" fill="#626262"/>
<rect x="235" y="1011.8" width="1" height="4" fill="#626262"/>
<rect x="251" y="1332.8" width="1" height="4.3" fill="#626262"/>
<rect x="251" y="1011.8" width="1" height="4" fill="#626262"/>
<rect x="267" y="1332.8" width="1" height="4.3" fill="#626262"/>
<rect x="267" y="1011.8" width="1" height="4" fill="#626262"/>
<rect x="282" y="1332.8" width="1" height="4.3" fill="#626262"/>
<rect x="282" y="1011.8" width="1" height="4" fill="#626262"/>
<rect x="298" y="1332.8" width="1" height="4.3" fill="#626262"/>
<rect x="298" y="1011.8" width="1" height="4" fill="#626262"/>
<rect x="314" y="1332.8" width="1" height="4.3" fill="#626262"/>
<rect x="314" y="1011.8" width="1" height="4" fill="#626262"/>
<rect x="330" y="1332.8" width="1" height="4.3" fill="#626262"/>
<rect x="330" y="1011.8" width="1" height="4" fill="#626262"/>
<rect x="345" y="1332.8" width="1" height="4.3" fill="#626262"/>
<rect x="345" y="1011.8" width="1" height="4" fill="#626262"/>
<rect x="361" y="1332.8" width="1" height="4.3" fill="#626262"/>
<rect x="361" y="1011.8" width="1" height="4" fill="#626262"/>
<rect x="377" y="1332.8" width="1" height="4.3" fill="#626262"/>
<rect x="377" y="1011.8" width="1" height="4" fill="#626262"/>
<rect x="393" y="1332.8" width="1" height="4.3" fill="#626262"/>
<rect x="393" y="1011.8" width="1" height="4" fill="#626262"/>
<rect x="408" y="1332.8" width="1" height="4.3" fill="#626262"/>
<rect x="408" y="1011.8" width="1" height="4" fill="#626262"/>
<rect x="424" y="1332.8" width="1" height="4.3" fill="#626262"/>
<rect x="424" y="1011.8" width="1" height="4" fill="#626262"/>
<rect x="440" y="1332.8" width="1" height="4.3" fill="#626262"/>
<rect x="440" y="1011.8" width="1" height="4" fill="#626262"/>
<rect x="456" y="1332.8" width="1" height="4.3" fill="#626262"/>
<rect x="456" y="1011.8" width="1" height="4" fill="#626262"/>
<rect x="471" y="1332.8" width="1" height="4.3" fill="#626262"/>
<rect x="471" y="1011.8" width="1" height="4" fill="#626262"/>
<rect x="487" y="1332.8" width="1" height="4.3" fill="#626262"/>
<rect x="487" y="1011.8" width="1" height="4" fill="#626262"/>
<rect x="503" y="1332.8" width="1" height="4.3" fill="#626262"/>
<rect x="503" y="1011.8" width="1" height="4" fill="#626262"/>
<rect x="518" y="1332.8" width="1" height="4.3" fill="#626262"/>
<rect x="518" y="1011.8" width="1" height="4" fill="#626262"/>
<rect x="534" y="1332.8" width="1" height="4.3" fill="#626262"/>
<rect x="534" y="1011.8" width="1" height="4" fill="#626262"/>
<rect x="550" y="1332.8" width="1" height="4.3" fill="#626262"/>
<rect x="550" y="1011.8" width="1" height="4" fill="#626262"/>
<rect x="566" y="1332.8" width="1" height="4.3" fill="#626262"/>
<rect x="566" y="1011.8" width="1" height="4" fill="#626262"/>
<rect x="581" y="1332.8" width="1" height="4.3" fill="#626262"/>
<rect x="581" y="1011.8" width="1" height="4" fill="#626262"/>
<rect x="597" y="1332.8" width="1" height="4.3" fill="#626262"/>
<rect x="597" y="1011.8" width="1" height="4" fill="#626262"/>
<rect x="613" y="1332.8" width="1" height="4.3" fill="#626262"/>
<rect x="613" y="1011.8" width="1" height="4" fill="#626262"/>
<rect x="629" y="1332.8" width="1" height="4.3" fill="#626262"/>
<rect x="629" y="1011.8" width="1" height="4" fill="#626262"/>
<rect x="644" y="1332.8" width="1" height="4.3" fill="#626262"/>
<rect x="644" y="1011.8" width="1" height="4" fill="#626262"/>
<rect x="660" y="1332.8" width="1" height="4.3" fill="#626262"/>
<rect x="660" y="1011.8" width="1" height="4" fill="#626262"/>
<rect x="676" y="1332.8" width="1" height="4.3" fill="#626262"/>
<rect x="676" y="1011.8" width="1" height="4" fill="#626262"/>
<rect x="692" y="1332.8" width="1" height="4.3" fill="#626262"/>
<rect x="692" y="1011.8" width="1" height="4" fill="#626262"/>
<rect x="707" y="1332.8" width="1" height="4.3" fill="#626262"/>
<rect x="707" y="1011.8" width="1" height="4" fill="#626262"/>
<rect x="723" y="1332.8" width="1" height="4.3" fill="#626262"/>
<rect x="723" y="1011.8" width="1" height="4" fill="#626262"/>
<rect x="739" y="1332.8" width="1" height="4.3" fill="#626262"/>
<rect x="739" y="1011.8" width="1" height="4" fill="#626262"/>
<rect x="91.1" y="1337" width="8.5" height="1" fill="#626262"/>
<rect x="752.8" y="1337" width="8.5" height="1" fill="#626262"/>
<rect x="91.1" y="1321" width="5.3" height="1" fill="#626262"/>
<rect x="756" y="1321" width="5.3" height="1" fill="#626262"/>
<rect x="91.1" y="1306" width="5.3" height="1" fill="#626262"/>
<rect x="756" y="1306" width="5.3" height="1" fill="#626262"/>
<rect x="91.1" y="1290" width="5.3" height="1" fill="#626262"/>
<rect x="756" y="1290" width="5.3" height="1" fill="#626262"/>
<rect x="91.1" y="1275" width="5.3" height="1" fill="#b4b4b4"/>
<rect x="756" y="1275" width="5.3" height="1" fill="#b4b4b4"/>
<rect x="91.1" y="1259" width="8.5" height="1" fill="#626262"/>
<rect x="752.8" y="1259" width="8.5" height="1" fill="#626262"/>
<rect x="91.1" y="1244" width="5.3" height="1" fill="#626262"/>
<rect x="756" y="1244" width="5.3" height="1" fill="#626262"/>
<rect x="91.1" y="1228" width="5.3" height="1" fill="#626262"/>
<rect x="756" y="1228" width="5.3" height="1" fill="#626262"/>
<rect x="91.1" y="1213" width="5.3" height="1" fill="#626262"/>
<rect x="756" y="1213" width="5.3" height="1" fill="#626262"/>
<rect x="91.1" y="1197" width="5.3" height="1" fill="#626262"/>
<rect x="756" y="1197" width="5.3" height="1" fill="#626262"/>
<rect x="91.1" y="1182" width="8.5" height="1" fill="#626262"/>
<rect x="752.8" y="1182" width="8.5" height="1" fill="#626262"/>
<rect x="91.1" y="1167" width="5.3" height="1" fill="#626262"/>
<rect x="756" y="1167" width="5.3" height="1" fill="#626262"/>
<rect x="91.1" y="1151" width="5.3" height="1" fill="#626262"/>
<rect x="756" y="1151" width="5.3" height="1" fill="#626262"/>
<rect x="91.1" y="1136" width="5.3" height="1" fill="#626262"/>
<rect x="756" y="1136" width="5.3" height="1" fill="#626262"/>
<rect x="91.1" y="1120" width="5.3" height="1" fill="#626262"/>
<rect x="756" y="1120" width="5.3" height="1" fill="#626262"/>
<rect x="91.1" y="1105" width="8.5" height="1" fill="#626262"/>
<rect x="752.8" y="1105" width="8.5" height="1" fill="#626262"/>
<rect x="91.1" y="1089" width="5.3" height="1" fill="#626262"/>
<rect x="756" y="1089" width="5.3" height="1" fill="#626262"/>
<rect x="91.1" y="1074" width="5.3" height="1" fill="#626262"/>
<rect x="756" y="1074" width="5.3" height="1" fill="#626262"/>
<rect x="91.1" y="1058" width="5.3" height="1" fill="#626262"/>
<rect x="756" y="1058" width="5.3" height="1" fill="#626262"/>
<rect x="91.1" y="1043" width="5.3" height="1" fill="#626262"/>
<rect x="756" y="1043" width="5.3" height="1" fill="#626262"/>
<rect x="90.25" y="1011" width="1.7" height="326.8" fill="#5e5e5e"/>
<rect x="90.25" y="1011" width="671.6" height="1.6" fill="#5e5e5e"/>
<rect x="760.75" y="1011" width="1.1" height="326.8" fill="#747474"/>
<rect x="90.25" y="1336.4" width="671.6" height="1.4" fill="#5e5e5e"/>
<rect x="796.9" y="981.7" width="25" height="19.7" fill="#ff0000"/>
<rect x="797.4" y="982.2" width="24" height="18.7" fill="none" stroke="#000" stroke-opacity="0.42" stroke-width="1"/>
<rect x="796.9" y="1021.44" width="25" height="19.7" fill="#00ff00"/>
<rect x="797.4" y="1021.94" width="24" height="18.7" fill="none" stroke="#000" stroke-opacity="0.42" stroke-width="1"/>
<rect x="796.9" y="1061.18" width="25" height="19.7" fill="#0000ff"/>
<rect x="797.4" y="1061.68" width="24" height="18.7" fill="none" stroke="#000" stroke-opacity="0.42" stroke-width="1"/>
<rect x="796.9" y="1100.92" width="25" height="19.7" fill="#808080"/>
<rect x="797.4" y="1101.42" width="24" height="18.7" fill="none" stroke="#000" stroke-opacity="0.42" stroke-width="1"/>
<rect x="796.9" y="1140.66" width="25" height="19.7" fill="#00ffff"/>
<rect x="797.4" y="1141.16" width="24" height="18.7" fill="none" stroke="#000" stroke-opacity="0.42" stroke-width="1"/>
<rect x="796.9" y="1180.4" width="25" height="19.7" fill="#ff00ff"/>
<rect x="797.4" y="1180.9" width="24" height="18.7" fill="none" stroke="#000" stroke-opacity="0.42" stroke-width="1"/>
<rect x="796.9" y="1220.14" width="25" height="19.7" fill="#ffff00"/>
<rect x="797.4" y="1220.64" width="24" height="18.7" fill="none" stroke="#000" stroke-opacity="0.42" stroke-width="1"/>
<rect x="796.9" y="1259.88" width="25" height="19.7" fill="#ff8000"/>
<rect x="797.4" y="1260.38" width="24" height="18.7" fill="none" stroke="#000" stroke-opacity="0.42" stroke-width="1"/>
<rect x="796.9" y="1299.62" width="25" height="19.7" fill="#996633"/>
<rect x="797.4" y="1300.12" width="24" height="18.7" fill="none" stroke="#000" stroke-opacity="0.42" stroke-width="1"/>
<rect x="796.9" y="1339.36" width="25" height="19.7" fill="#000000"/>
<rect x="797.4" y="1339.86" width="24" height="18.7" fill="none" stroke="#000" stroke-opacity="0.42" stroke-width="1"/>
</svg>
<div class="t" style="left:151.82px;top:-2.50px;font-family:'Liberation Sans',sans-serif;font-size:20.70px;line-height:20.70px;color:#5f5f5f;transform:scaleX(1.2788);"><i>α</i><span class="s" style="font-size:19px;top:5.3px;"><svg class="o" viewBox="0 -1854 1139 2288"><path d="M763,0L583,0L583,-1098C540,-1058 483,-1018 413,-979C342,-940 279,-910 223,-890L223,-1056C324,-1101 412,-1157 487,-1221C562,-1285 615,-1348 646,-1409L763,-1409Z"/></svg></span><span class="s" style="top:1.4px">=</span>0.3,<i>α</i><span class="s" style="font-size:19px;top:5.3px;">2</span><span class="s" style="top:1.4px">=</span>0.3,<i>R</i><span class="s" style="font-size:19px;top:5.3px;font-style:italic;">d</span><span class="s" style="top:1.4px">=</span>0.3,<i>N</i><span class="s" style="font-size:19px;top:5.3px;">c<svg class="o" viewBox="0 -1854 1139 2288"><path d="M763,0L583,0L583,-1098C540,-1058 483,-1018 413,-979C342,-940 279,-910 223,-890L223,-1056C324,-1101 412,-1157 487,-1221C562,-1285 615,-1348 646,-1409L763,-1409Z"/></svg></span><span class="s" style="top:1.4px">=</span>0.5,<i>γ</i><span class="s" style="font-size:19px;top:5.3px;"><svg class="o" viewBox="0 -1854 1139 2288"><path d="M763,0L583,0L583,-1098C540,-1058 483,-1018 413,-979C342,-940 279,-910 223,-890L223,-1056C324,-1101 412,-1157 487,-1221C562,-1285 615,-1348 646,-1409L763,-1409Z"/></svg></span><span class="s" style="top:1.4px">=</span>0.2,Q<span class="s" style="font-size:19px;top:5.3px;"><svg class="o" viewBox="0 -1854 1139 2288"><path d="M763,0L583,0L583,-1098C540,-1058 483,-1018 413,-979C342,-940 279,-910 223,-890L223,-1056C324,-1101 412,-1157 487,-1221C562,-1285 615,-1348 646,-1409L763,-1409Z"/></svg></span><span class="s" style="top:1.4px">=</span>0.5</div>
<div class="t" style="left:197.61px;top:492.60px;font-family:'Liberation Sans',sans-serif;font-size:20.70px;line-height:20.70px;color:#5f5f5f;transform:scaleX(1.2881);"><i>α</i><span class="s" style="font-size:19px;top:5.3px;"><svg class="o" viewBox="0 -1854 1139 2288"><path d="M763,0L583,0L583,-1098C540,-1058 483,-1018 413,-979C342,-940 279,-910 223,-890L223,-1056C324,-1101 412,-1157 487,-1221C562,-1285 615,-1348 646,-1409L763,-1409Z"/></svg></span><span class="s" style="top:1.4px">=</span>0.3,<i>α</i><span class="s" style="font-size:19px;top:5.3px;">2</span><span class="s" style="top:1.4px">=</span>0.3,<i>R</i><span class="s" style="font-size:19px;top:5.3px;font-style:italic;">d</span><span class="s" style="top:1.4px">=</span>0.3,<i>γ</i><span class="s" style="font-size:19px;top:5.3px;"><svg class="o" viewBox="0 -1854 1139 2288"><path d="M763,0L583,0L583,-1098C540,-1058 483,-1018 413,-979C342,-940 279,-910 223,-890L223,-1056C324,-1101 412,-1157 487,-1221C562,-1285 615,-1348 646,-1409L763,-1409Z"/></svg></span><span class="s" style="top:1.4px">=</span>0.2,<i>M</i><span class="s" style="font-size:19px;top:5.3px;"><svg class="o" viewBox="0 -1854 1139 2288"><path d="M763,0L583,0L583,-1098C540,-1058 483,-1018 413,-979C342,-940 279,-910 223,-890L223,-1056C324,-1101 412,-1157 487,-1221C562,-1285 615,-1348 646,-1409L763,-1409Z"/></svg></span><span class="s" style="top:1.4px">=</span>0.5</div>
<div class="t" style="left:152.62px;top:968.20px;font-family:'Liberation Sans',sans-serif;font-size:20.70px;line-height:20.70px;color:#5f5f5f;transform:scaleX(1.2786);"><i>α</i><span class="s" style="font-size:19px;top:5.3px;"><svg class="o" viewBox="0 -1854 1139 2288"><path d="M763,0L583,0L583,-1098C540,-1058 483,-1018 413,-979C342,-940 279,-910 223,-890L223,-1056C324,-1101 412,-1157 487,-1221C562,-1285 615,-1348 646,-1409L763,-1409Z"/></svg></span><span class="s" style="top:1.4px">=</span>0.3,<i>α</i><span class="s" style="font-size:19px;top:5.3px;">2</span><span class="s" style="top:1.4px">=</span>0.3,<i>R</i><span class="s" style="font-size:19px;top:5.3px;font-style:italic;">d</span><span class="s" style="top:1.4px">=</span>0.3,<i>N</i><span class="s" style="font-size:19px;top:5.3px;">c<svg class="o" viewBox="0 -1854 1139 2288"><path d="M763,0L583,0L583,-1098C540,-1058 483,-1018 413,-979C342,-940 279,-910 223,-890L223,-1056C324,-1101 412,-1157 487,-1221C562,-1285 615,-1348 646,-1409L763,-1409Z"/></svg></span><span class="s" style="top:1.4px">=</span>0.5,<i>γ</i><span class="s" style="font-size:19px;top:5.3px;"><svg class="o" viewBox="0 -1854 1139 2288"><path d="M763,0L583,0L583,-1098C540,-1058 483,-1018 413,-979C342,-940 279,-910 223,-890L223,-1056C324,-1101 412,-1157 487,-1221C562,-1285 615,-1348 646,-1409L763,-1409Z"/></svg></span><span class="s" style="top:1.4px">=</span>0.2,<i>M</i><span class="s" style="font-size:19px;top:5.3px;"><svg class="o" viewBox="0 -1854 1139 2288"><path d="M763,0L583,0L583,-1098C540,-1058 483,-1018 413,-979C342,-940 279,-910 223,-890L223,-1056C324,-1101 412,-1157 487,-1221C562,-1285 615,-1348 646,-1409L763,-1409Z"/></svg></span><span class="s" style="top:1.4px">=</span>0.5</div>
<div class="t" style="left:43.88px;top:360.36px;font-family:'Liberation Sans',sans-serif;font-size:20.80px;line-height:20.80px;color:#5f5f5f;transform:scaleX(1.2900);">0.0</div>
<div class="t" style="left:43.88px;top:297.82px;font-family:'Liberation Sans',sans-serif;font-size:20.80px;line-height:20.80px;color:#5f5f5f;transform:scaleX(1.2900);">0.2</div>
<div class="t" style="left:43.88px;top:235.28px;font-family:'Liberation Sans',sans-serif;font-size:20.80px;line-height:20.80px;color:#5f5f5f;transform:scaleX(1.2900);">0.4</div>
<div class="t" style="left:43.88px;top:172.74px;font-family:'Liberation Sans',sans-serif;font-size:20.80px;line-height:20.80px;color:#5f5f5f;transform:scaleX(1.2900);">0.6</div>
<div class="t" style="left:43.88px;top:110.20px;font-family:'Liberation Sans',sans-serif;font-size:20.80px;line-height:20.80px;color:#5f5f5f;transform:scaleX(1.2900);">0.8</div>
<div class="t" style="left:43.88px;top:45.84px;font-family:'Liberation Sans',sans-serif;font-size:20.80px;line-height:20.80px;color:#5f5f5f;transform:scaleX(1.2900);"><svg class="o" viewBox="0 -1854 1139 2288"><path d="M763,0L583,0L583,-1098C540,-1058 483,-1018 413,-979C342,-940 279,-910 223,-890L223,-1056C324,-1101 412,-1157 487,-1221C562,-1285 615,-1348 646,-1409L763,-1409Z"/></svg>.0</div>
<div class="t" style="left:38.88px;top:849.46px;font-family:'Liberation Sans',sans-serif;font-size:20.80px;line-height:20.80px;color:#5f5f5f;transform:scaleX(1.2900);">0.0</div>
<div class="t" style="left:38.88px;top:787.94px;font-family:'Liberation Sans',sans-serif;font-size:20.80px;line-height:20.80px;color:#5f5f5f;transform:scaleX(1.2900);">0.2</div>
<div class="t" style="left:38.88px;top:726.42px;font-family:'Liberation Sans',sans-serif;font-size:20.80px;line-height:20.80px;color:#5f5f5f;transform:scaleX(1.2900);">0.4</div>
<div class="t" style="left:38.88px;top:664.90px;font-family:'Liberation Sans',sans-serif;font-size:20.80px;line-height:20.80px;color:#5f5f5f;transform:scaleX(1.2900);">0.6</div>
<div class="t" style="left:38.88px;top:603.38px;font-family:'Liberation Sans',sans-serif;font-size:20.80px;line-height:20.80px;color:#5f5f5f;transform:scaleX(1.2900);">0.8</div>
<div class="t" style="left:38.88px;top:540.04px;font-family:'Liberation Sans',sans-serif;font-size:20.80px;line-height:20.80px;color:#5f5f5f;transform:scaleX(1.2900);"><svg class="o" viewBox="0 -1854 1139 2288"><path d="M763,0L583,0L583,-1098C540,-1058 483,-1018 413,-979C342,-940 279,-910 223,-890L223,-1056C324,-1101 412,-1157 487,-1221C562,-1285 615,-1348 646,-1409L763,-1409Z"/></svg>.0</div>
<div class="t" style="left:46.38px;top:1327.46px;font-family:'Liberation Sans',sans-serif;font-size:20.80px;line-height:20.80px;color:#5f5f5f;transform:scaleX(1.2900);">0.0</div>
<div class="t" style="left:46.38px;top:1250.16px;font-family:'Liberation Sans',sans-serif;font-size:20.80px;line-height:20.80px;color:#5f5f5f;transform:scaleX(1.2900);">0.5</div>
<div class="t" style="left:46.38px;top:1171.04px;font-family:'Liberation Sans',sans-serif;font-size:20.80px;line-height:20.80px;color:#5f5f5f;transform:scaleX(1.2900);"><svg class="o" viewBox="0 -1854 1139 2288"><path d="M763,0L583,0L583,-1098C540,-1058 483,-1018 413,-979C342,-940 279,-910 223,-890L223,-1056C324,-1101 412,-1157 487,-1221C562,-1285 615,-1348 646,-1409L763,-1409Z"/></svg>.0</div>
<div class="t" style="left:46.38px;top:1093.74px;font-family:'Liberation Sans',sans-serif;font-size:20.80px;line-height:20.80px;color:#5f5f5f;transform:scaleX(1.2900);"><svg class="o" viewBox="0 -1854 1139 2288"><path d="M763,0L583,0L583,-1098C540,-1058 483,-1018 413,-979C342,-940 279,-910 223,-890L223,-1056C324,-1101 412,-1157 487,-1221C562,-1285 615,-1348 646,-1409L763,-1409Z"/></svg>.5</div>
<div class="t" style="left:46.38px;top:1018.26px;font-family:'Liberation Sans',sans-serif;font-size:20.80px;line-height:20.80px;color:#5f5f5f;transform:scaleX(1.2900);">2.0</div>
<div class="t" style="left:159.90px;top:389.70px;font-family:'Liberation Sans',sans-serif;font-size:22.20px;line-height:22.20px;color:#5f5f5f;transform:scaleX(1.1959);">Ternary</div>
<div class="t" style="left:341.95px;top:389.70px;font-family:'Liberation Sans',sans-serif;font-size:22.20px;line-height:22.20px;color:#5f5f5f;transform:scaleX(1.1754);">Hybrid</div>
<div class="t" style="left:495.89px;top:389.70px;font-family:'Liberation Sans',sans-serif;font-size:22.20px;line-height:22.20px;color:#5f5f5f;transform:scaleX(1.2060);">Nano</div>
<div class="t" style="left:638.34px;top:389.70px;font-family:'Liberation Sans',sans-serif;font-size:22.20px;line-height:22.20px;color:#5f5f5f;transform:scaleX(1.1591);">Simple</div>
<div class="t" style="left:154.69px;top:879.00px;font-family:'Liberation Sans',sans-serif;font-size:22.20px;line-height:22.20px;color:#5f5f5f;transform:scaleX(1.2082);">Ternary</div>
<div class="t" style="left:337.01px;top:879.00px;font-family:'Liberation Sans',sans-serif;font-size:22.20px;line-height:22.20px;color:#5f5f5f;transform:scaleX(1.1967);">Hybrid</div>
<div class="t" style="left:492.50px;top:879.00px;font-family:'Liberation Sans',sans-serif;font-size:22.20px;line-height:22.20px;color:#5f5f5f;transform:scaleX(1.2000);">Nano</div>
<div class="t" style="left:634.84px;top:879.00px;font-family:'Liberation Sans',sans-serif;font-size:22.20px;line-height:22.20px;color:#5f5f5f;transform:scaleX(1.1636);">Simple</div>
<div class="t" style="left:162.11px;top:1356.20px;font-family:'Liberation Sans',sans-serif;font-size:22.20px;line-height:22.20px;color:#5f5f5f;transform:scaleX(1.1877);">Ternary</div>
<div class="t" style="left:343.86px;top:1356.20px;font-family:'Liberation Sans',sans-serif;font-size:22.20px;line-height:22.20px;color:#5f5f5f;transform:scaleX(1.1705);">Hybrid</div>
<div class="t" style="left:497.41px;top:1356.20px;font-family:'Liberation Sans',sans-serif;font-size:22.20px;line-height:22.20px;color:#5f5f5f;transform:scaleX(1.1940);">Nano</div>
<div class="t" style="left:639.34px;top:1356.20px;font-family:'Liberation Sans',sans-serif;font-size:22.20px;line-height:22.20px;color:#5f5f5f;transform:scaleX(1.1636);">Simple</div>
<div class="t" style="left:444.42px;top:415.00px;font-family:'Liberation Serif',serif;font-size:42.50px;line-height:42.50px;color:#000;transform:scaleX(0.9756);"><span style="-webkit-text-stroke:0.6px #000">(a)</span></div>
<div class="t" style="left:443.12px;top:901.50px;font-family:'Liberation Serif',serif;font-size:42.50px;line-height:42.50px;color:#000;transform:scaleX(0.9766);"><span style="-webkit-text-stroke:0.6px #000">(b)</span></div>
<div class="t" style="left:444.42px;top:1384.50px;font-family:'Liberation Serif',serif;font-size:42.50px;line-height:42.50px;color:#000;transform:scaleX(0.9756);"><span style="-webkit-text-stroke:0.6px #000">(c)</span></div>
<div class="t" style="left:832.02px;top:6.60px;font-family:'Liberation Sans',sans-serif;font-size:26.40px;line-height:26.40px;color:#000;transform:scaleX(1.2771);"><i>M</i><span class="s" style="font-size:19.6px;top:5.2px;"><svg class="o" viewBox="0 -1854 1139 2288"><path d="M763,0L583,0L583,-1098C540,-1058 483,-1018 413,-979C342,-940 279,-910 223,-890L223,-1056C324,-1101 412,-1157 487,-1221C562,-1285 615,-1348 646,-1409L763,-1409Z"/></svg></span><span class="s" style="top:1.3px">=</span>0.0</div>
<div class="t" style="left:832.02px;top:46.77px;font-family:'Liberation Sans',sans-serif;font-size:26.40px;line-height:26.40px;color:#000;transform:scaleX(1.2771);"><i>M</i><span class="s" style="font-size:19.6px;top:5.2px;"><svg class="o" viewBox="0 -1854 1139 2288"><path d="M763,0L583,0L583,-1098C540,-1058 483,-1018 413,-979C342,-940 279,-910 223,-890L223,-1056C324,-1101 412,-1157 487,-1221C562,-1285 615,-1348 646,-1409L763,-1409Z"/></svg></span><span class="s" style="top:1.3px">=</span>0.5</div>
<div class="t" style="left:832.02px;top:85.05px;font-family:'Liberation Sans',sans-serif;font-size:26.40px;line-height:26.40px;color:#000;transform:scaleX(1.2771);"><i>M</i><span class="s" style="font-size:19.6px;top:5.2px;"><svg class="o" viewBox="0 -1854 1139 2288"><path d="M763,0L583,0L583,-1098C540,-1058 483,-1018 413,-979C342,-940 279,-910 223,-890L223,-1056C324,-1101 412,-1157 487,-1221C562,-1285 615,-1348 646,-1409L763,-1409Z"/></svg></span><span class="s" style="top:1.3px">=</span><svg class="o" viewBox="0 -1854 1139 2288"><path d="M763,0L583,0L583,-1098C540,-1058 483,-1018 413,-979C342,-940 279,-910 223,-890L223,-1056C324,-1101 412,-1157 487,-1221C562,-1285 615,-1348 646,-1409L763,-1409Z"/></svg>.0</div>
<div class="t" style="left:832.02px;top:125.22px;font-family:'Liberation Sans',sans-serif;font-size:26.40px;line-height:26.40px;color:#000;transform:scaleX(1.2771);"><i>M</i><span class="s" style="font-size:19.6px;top:5.2px;"><svg class="o" viewBox="0 -1854 1139 2288"><path d="M763,0L583,0L583,-1098C540,-1058 483,-1018 413,-979C342,-940 279,-910 223,-890L223,-1056C324,-1101 412,-1157 487,-1221C562,-1285 615,-1348 646,-1409L763,-1409Z"/></svg></span><span class="s" style="top:1.3px">=</span><svg class="o" viewBox="0 -1854 1139 2288"><path d="M763,0L583,0L583,-1098C540,-1058 483,-1018 413,-979C342,-940 279,-910 223,-890L223,-1056C324,-1101 412,-1157 487,-1221C562,-1285 615,-1348 646,-1409L763,-1409Z"/></svg>.5</div>
<div class="t" style="left:832.02px;top:167.28px;font-family:'Liberation Sans',sans-serif;font-size:26.40px;line-height:26.40px;color:#000;transform:scaleX(1.2771);"><i>M</i><span class="s" style="font-size:19.6px;top:5.2px;"><svg class="o" viewBox="0 -1854 1139 2288"><path d="M763,0L583,0L583,-1098C540,-1058 483,-1018 413,-979C342,-940 279,-910 223,-890L223,-1056C324,-1101 412,-1157 487,-1221C562,-1285 615,-1348 646,-1409L763,-1409Z"/></svg></span><span class="s" style="top:1.3px">=</span>2.0</div>
<div class="t" style="left:832.02px;top:207.45px;font-family:'Liberation Sans',sans-serif;font-size:26.40px;line-height:26.40px;color:#000;transform:scaleX(1.2771);"><i>M</i><span class="s" style="font-size:19.6px;top:5.2px;"><svg class="o" viewBox="0 -1854 1139 2288"><path d="M763,0L583,0L583,-1098C540,-1058 483,-1018 413,-979C342,-940 279,-910 223,-890L223,-1056C324,-1101 412,-1157 487,-1221C562,-1285 615,-1348 646,-1409L763,-1409Z"/></svg></span><span class="s" style="top:1.3px">=</span>2.5</div>
<div class="t" style="left:832.02px;top:247.62px;font-family:'Liberation Sans',sans-serif;font-size:26.40px;line-height:26.40px;color:#000;transform:scaleX(1.2771);"><i>M</i><span class="s" style="font-size:19.6px;top:5.2px;"><svg class="o" viewBox="0 -1854 1139 2288"><path d="M763,0L583,0L583,-1098C540,-1058 483,-1018 413,-979C342,-940 279,-910 223,-890L223,-1056C324,-1101 412,-1157 487,-1221C562,-1285 615,-1348 646,-1409L763,-1409Z"/></svg></span><span class="s" style="top:1.3px">=</span>3.0</div>
<div class="t" style="left:832.02px;top:287.79px;font-family:'Liberation Sans',sans-serif;font-size:26.40px;line-height:26.40px;color:#000;transform:scaleX(1.2771);"><i>M</i><span class="s" style="font-size:19.6px;top:5.2px;"><svg class="o" viewBox="0 -1854 1139 2288"><path d="M763,0L583,0L583,-1098C540,-1058 483,-1018 413,-979C342,-940 279,-910 223,-890L223,-1056C324,-1101 412,-1157 487,-1221C562,-1285 615,-1348 646,-1409L763,-1409Z"/></svg></span><span class="s" style="top:1.3px">=</span>3.5</div>
<div class="t" style="left:832.02px;top:327.96px;font-family:'Liberation Sans',sans-serif;font-size:26.40px;line-height:26.40px;color:#000;transform:scaleX(1.2771);"><i>M</i><span class="s" style="font-size:19.6px;top:5.2px;"><svg class="o" viewBox="0 -1854 1139 2288"><path d="M763,0L583,0L583,-1098C540,-1058 483,-1018 413,-979C342,-940 279,-910 223,-890L223,-1056C324,-1101 412,-1157 487,-1221C562,-1285 615,-1348 646,-1409L763,-1409Z"/></svg></span><span class="s" style="top:1.3px">=</span>4.0</div>
<div class="t" style="left:832.02px;top:368.13px;font-family:'Liberation Sans',sans-serif;font-size:26.40px;line-height:26.40px;color:#000;transform:scaleX(1.2771);"><i>M</i><span class="s" style="font-size:19.6px;top:5.2px;"><svg class="o" viewBox="0 -1854 1139 2288"><path d="M763,0L583,0L583,-1098C540,-1058 483,-1018 413,-979C342,-940 279,-910 223,-890L223,-1056C324,-1101 412,-1157 487,-1221C562,-1285 615,-1348 646,-1409L763,-1409Z"/></svg></span><span class="s" style="top:1.3px">=</span>4.5</div>
<div class="t" style="left:829.24px;top:501.60px;font-family:'Liberation Sans',sans-serif;font-size:26.40px;line-height:26.40px;color:#000;transform:scaleX(1.2611);"><i>N</i><span class="s" style="font-size:19.6px;top:4.9px;">c<svg class="o" viewBox="0 -1854 1139 2288"><path d="M763,0L583,0L583,-1098C540,-1058 483,-1018 413,-979C342,-940 279,-910 223,-890L223,-1056C324,-1101 412,-1157 487,-1221C562,-1285 615,-1348 646,-1409L763,-1409Z"/></svg></span><span class="s" style="top:1.3px">=</span>0.0</div>
<div class="t" style="left:829.24px;top:541.10px;font-family:'Liberation Sans',sans-serif;font-size:26.40px;line-height:26.40px;color:#000;transform:scaleX(1.2611);"><i>N</i><span class="s" style="font-size:19.6px;top:4.9px;">c<svg class="o" viewBox="0 -1854 1139 2288"><path d="M763,0L583,0L583,-1098C540,-1058 483,-1018 413,-979C342,-940 279,-910 223,-890L223,-1056C324,-1101 412,-1157 487,-1221C562,-1285 615,-1348 646,-1409L763,-1409Z"/></svg></span><span class="s" style="top:1.3px">=</span>0.5</div>
<div class="t" style="left:829.24px;top:578.71px;font-family:'Liberation Sans',sans-serif;font-size:26.40px;line-height:26.40px;color:#000;transform:scaleX(1.2611);"><i>N</i><span class="s" style="font-size:19.6px;top:4.9px;">c<svg class="o" viewBox="0 -1854 1139 2288"><path d="M763,0L583,0L583,-1098C540,-1058 483,-1018 413,-979C342,-940 279,-910 223,-890L223,-1056C324,-1101 412,-1157 487,-1221C562,-1285 615,-1348 646,-1409L763,-1409Z"/></svg></span><span class="s" style="top:1.3px">=</span><svg class="o" viewBox="0 -1854 1139 2288"><path d="M763,0L583,0L583,-1098C540,-1058 483,-1018 413,-979C342,-940 279,-910 223,-890L223,-1056C324,-1101 412,-1157 487,-1221C562,-1285 615,-1348 646,-1409L763,-1409Z"/></svg>.0</div>
<div class="t" style="left:829.24px;top:618.21px;font-family:'Liberation Sans',sans-serif;font-size:26.40px;line-height:26.40px;color:#000;transform:scaleX(1.2611);"><i>N</i><span class="s" style="font-size:19.6px;top:4.9px;">c<svg class="o" viewBox="0 -1854 1139 2288"><path d="M763,0L583,0L583,-1098C540,-1058 483,-1018 413,-979C342,-940 279,-910 223,-890L223,-1056C324,-1101 412,-1157 487,-1221C562,-1285 615,-1348 646,-1409L763,-1409Z"/></svg></span><span class="s" style="top:1.3px">=</span><svg class="o" viewBox="0 -1854 1139 2288"><path d="M763,0L583,0L583,-1098C540,-1058 483,-1018 413,-979C342,-940 279,-910 223,-890L223,-1056C324,-1101 412,-1157 487,-1221C562,-1285 615,-1348 646,-1409L763,-1409Z"/></svg>.5</div>
<div class="t" style="left:829.24px;top:659.60px;font-family:'Liberation Sans',sans-serif;font-size:26.40px;line-height:26.40px;color:#000;transform:scaleX(1.2611);"><i>N</i><span class="s" style="font-size:19.6px;top:4.9px;">c<svg class="o" viewBox="0 -1854 1139 2288"><path d="M763,0L583,0L583,-1098C540,-1058 483,-1018 413,-979C342,-940 279,-910 223,-890L223,-1056C324,-1101 412,-1157 487,-1221C562,-1285 615,-1348 646,-1409L763,-1409Z"/></svg></span><span class="s" style="top:1.3px">=</span>2.0</div>
<div class="t" style="left:829.24px;top:699.10px;font-family:'Liberation Sans',sans-serif;font-size:26.40px;line-height:26.40px;color:#000;transform:scaleX(1.2611);"><i>N</i><span class="s" style="font-size:19.6px;top:4.9px;">c<svg class="o" viewBox="0 -1854 1139 2288"><path d="M763,0L583,0L583,-1098C540,-1058 483,-1018 413,-979C342,-940 279,-910 223,-890L223,-1056C324,-1101 412,-1157 487,-1221C562,-1285 615,-1348 646,-1409L763,-1409Z"/></svg></span><span class="s" style="top:1.3px">=</span>2.5</div>
<div class="t" style="left:829.24px;top:738.60px;font-family:'Liberation Sans',sans-serif;font-size:26.40px;line-height:26.40px;color:#000;transform:scaleX(1.2611);"><i>N</i><span class="s" style="font-size:19.6px;top:4.9px;">c<svg class="o" viewBox="0 -1854 1139 2288"><path d="M763,0L583,0L583,-1098C540,-1058 483,-1018 413,-979C342,-940 279,-910 223,-890L223,-1056C324,-1101 412,-1157 487,-1221C562,-1285 615,-1348 646,-1409L763,-1409Z"/></svg></span><span class="s" style="top:1.3px">=</span>3.0</div>
<div class="t" style="left:829.24px;top:778.10px;font-family:'Liberation Sans',sans-serif;font-size:26.40px;line-height:26.40px;color:#000;transform:scaleX(1.2611);"><i>N</i><span class="s" style="font-size:19.6px;top:4.9px;">c<svg class="o" viewBox="0 -1854 1139 2288"><path d="M763,0L583,0L583,-1098C540,-1058 483,-1018 413,-979C342,-940 279,-910 223,-890L223,-1056C324,-1101 412,-1157 487,-1221C562,-1285 615,-1348 646,-1409L763,-1409Z"/></svg></span><span class="s" style="top:1.3px">=</span>3.5</div>
<div class="t" style="left:829.24px;top:817.60px;font-family:'Liberation Sans',sans-serif;font-size:26.40px;line-height:26.40px;color:#000;transform:scaleX(1.2611);"><i>N</i><span class="s" style="font-size:19.6px;top:4.9px;">c<svg class="o" viewBox="0 -1854 1139 2288"><path d="M763,0L583,0L583,-1098C540,-1058 483,-1018 413,-979C342,-940 279,-910 223,-890L223,-1056C324,-1101 412,-1157 487,-1221C562,-1285 615,-1348 646,-1409L763,-1409Z"/></svg></span><span class="s" style="top:1.3px">=</span>4.0</div>
<div class="t" style="left:829.24px;top:857.10px;font-family:'Liberation Sans',sans-serif;font-size:26.40px;line-height:26.40px;color:#000;transform:scaleX(1.2611);"><i>N</i><span class="s" style="font-size:19.6px;top:4.9px;">c<svg class="o" viewBox="0 -1854 1139 2288"><path d="M763,0L583,0L583,-1098C540,-1058 483,-1018 413,-979C342,-940 279,-910 223,-890L223,-1056C324,-1101 412,-1157 487,-1221C562,-1285 615,-1348 646,-1409L763,-1409Z"/></svg></span><span class="s" style="top:1.3px">=</span>4.5</div>
<div class="t" style="left:834.25px;top:977.20px;font-family:'Liberation Sans',sans-serif;font-size:26.40px;line-height:26.40px;color:#000;transform:scaleX(1.2500);">Q<span class="s" style="font-size:19.6px;top:5.1px;"><svg class="o" viewBox="0 -1854 1139 2288"><path d="M763,0L583,0L583,-1098C540,-1058 483,-1018 413,-979C342,-940 279,-910 223,-890L223,-1056C324,-1101 412,-1157 487,-1221C562,-1285 615,-1348 646,-1409L763,-1409Z"/></svg></span><span class="s" style="top:1.3px">=</span>0.0</div>
<div class="t" style="left:834.25px;top:1016.94px;font-family:'Liberation Sans',sans-serif;font-size:26.40px;line-height:26.40px;color:#000;transform:scaleX(1.2500);">Q<span class="s" style="font-size:19.6px;top:5.1px;"><svg class="o" viewBox="0 -1854 1139 2288"><path d="M763,0L583,0L583,-1098C540,-1058 483,-1018 413,-979C342,-940 279,-910 223,-890L223,-1056C324,-1101 412,-1157 487,-1221C562,-1285 615,-1348 646,-1409L763,-1409Z"/></svg></span><span class="s" style="top:1.3px">=</span>0.5</div>
<div class="t" style="left:834.25px;top:1054.79px;font-family:'Liberation Sans',sans-serif;font-size:26.40px;line-height:26.40px;color:#000;transform:scaleX(1.2500);">Q<span class="s" style="font-size:19.6px;top:5.1px;"><svg class="o" viewBox="0 -1854 1139 2288"><path d="M763,0L583,0L583,-1098C540,-1058 483,-1018 413,-979C342,-940 279,-910 223,-890L223,-1056C324,-1101 412,-1157 487,-1221C562,-1285 615,-1348 646,-1409L763,-1409Z"/></svg></span><span class="s" style="top:1.3px">=</span><svg class="o" viewBox="0 -1854 1139 2288"><path d="M763,0L583,0L583,-1098C540,-1058 483,-1018 413,-979C342,-940 279,-910 223,-890L223,-1056C324,-1101 412,-1157 487,-1221C562,-1285 615,-1348 646,-1409L763,-1409Z"/></svg>.0</div>
<div class="t" style="left:834.25px;top:1094.53px;font-family:'Liberation Sans',sans-serif;font-size:26.40px;line-height:26.40px;color:#000;transform:scaleX(1.2500);">Q<span class="s" style="font-size:19.6px;top:5.1px;"><svg class="o" viewBox="0 -1854 1139 2288"><path d="M763,0L583,0L583,-1098C540,-1058 483,-1018 413,-979C342,-940 279,-910 223,-890L223,-1056C324,-1101 412,-1157 487,-1221C562,-1285 615,-1348 646,-1409L763,-1409Z"/></svg></span><span class="s" style="top:1.3px">=</span><svg class="o" viewBox="0 -1854 1139 2288"><path d="M763,0L583,0L583,-1098C540,-1058 483,-1018 413,-979C342,-940 279,-910 223,-890L223,-1056C324,-1101 412,-1157 487,-1221C562,-1285 615,-1348 646,-1409L763,-1409Z"/></svg>.5</div>
<div class="t" style="left:834.25px;top:1136.16px;font-family:'Liberation Sans',sans-serif;font-size:26.40px;line-height:26.40px;color:#000;transform:scaleX(1.2500);">Q<span class="s" style="font-size:19.6px;top:5.1px;"><svg class="o" viewBox="0 -1854 1139 2288"><path d="M763,0L583,0L583,-1098C540,-1058 483,-1018 413,-979C342,-940 279,-910 223,-890L223,-1056C324,-1101 412,-1157 487,-1221C562,-1285 615,-1348 646,-1409L763,-1409Z"/></svg></span><span class="s" style="top:1.3px">=</span>2.0</div>
<div class="t" style="left:834.25px;top:1175.90px;font-family:'Liberation Sans',sans-serif;font-size:26.40px;line-height:26.40px;color:#000;transform:scaleX(1.2500);">Q<span class="s" style="font-size:19.6px;top:5.1px;"><svg class="o" viewBox="0 -1854 1139 2288"><path d="M763,0L583,0L583,-1098C540,-1058 483,-1018 413,-979C342,-940 279,-910 223,-890L223,-1056C324,-1101 412,-1157 487,-1221C562,-1285 615,-1348 646,-1409L763,-1409Z"/></svg></span><span class="s" style="top:1.3px">=</span>2.5</div>
<div class="t" style="left:834.25px;top:1215.64px;font-family:'Liberation Sans',sans-serif;font-size:26.40px;line-height:26.40px;color:#000;transform:scaleX(1.2500);">Q<span class="s" style="font-size:19.6px;top:5.1px;"><svg class="o" viewBox="0 -1854 1139 2288"><path d="M763,0L583,0L583,-1098C540,-1058 483,-1018 413,-979C342,-940 279,-910 223,-890L223,-1056C324,-1101 412,-1157 487,-1221C562,-1285 615,-1348 646,-1409L763,-1409Z"/></svg></span><span class="s" style="top:1.3px">=</span>3.0</div>
<div class="t" style="left:834.25px;top:1255.38px;font-family:'Liberation Sans',sans-serif;font-size:26.40px;line-height:26.40px;color:#000;transform:scaleX(1.2500);">Q<span class="s" style="font-size:19.6px;top:5.1px;"><svg class="o" viewBox="0 -1854 1139 2288"><path d="M763,0L583,0L583,-1098C540,-1058 483,-1018 413,-979C342,-940 279,-910 223,-890L223,-1056C324,-1101 412,-1157 487,-1221C562,-1285 615,-1348 646,-1409L763,-1409Z"/></svg></span><span class="s" style="top:1.3px">=</span>3.5</div>
<div class="t" style="left:834.25px;top:1295.12px;font-family:'Liberation Sans',sans-serif;font-size:26.40px;line-height:26.40px;color:#000;transform:scaleX(1.2500);">Q<span class="s" style="font-size:19.6px;top:5.1px;"><svg class="o" viewBox="0 -1854 1139 2288"><path d="M763,0L583,0L583,-1098C540,-1058 483,-1018 413,-979C342,-940 279,-910 223,-890L223,-1056C324,-1101 412,-1157 487,-1221C562,-1285 615,-1348 646,-1409L763,-1409Z"/></svg></span><span class="s" style="top:1.3px">=</span>4.0</div>
<div class="t" style="left:834.25px;top:1334.86px;font-family:'Liberation Sans',sans-serif;font-size:26.40px;line-height:26.40px;color:#000;transform:scaleX(1.2500);">Q<span class="s" style="font-size:19.6px;top:5.1px;"><svg class="o" viewBox="0 -1854 1139 2288"><path d="M763,0L583,0L583,-1098C540,-1058 483,-1018 413,-979C342,-940 279,-910 223,-890L223,-1056C324,-1101 412,-1157 487,-1221C562,-1285 615,-1348 646,-1409L763,-1409Z"/></svg></span><span class="s" style="top:1.3px">=</span>4.5</div>
<div class="t" style="left:6.05px;top:194.30px;font-family:'Liberation Sans',sans-serif;font-size:21.32px;line-height:21.32px;color:#4a4a4a;transform:scaleX(1.2045) rotate(-90deg);transform-origin:50% 50%;width:21.32px;height:21.32px;text-align:center;"><i>β</i></div>
<div class="t" style="left:0.20px;top:687.35px;font-family:'Liberation Sans',sans-serif;font-size:20.48px;line-height:20.48px;color:#4a4a4a;transform:scaleX(1.2595) rotate(-90deg);transform-origin:50% 50%;width:20.48px;height:20.48px;text-align:center;"><i>β</i></div>
<div class="t" style="left:8.05px;top:1163.40px;font-family:'Liberation Sans',sans-serif;font-size:19.97px;line-height:19.97px;color:#4a4a4a;transform:scaleX(1.2969) rotate(-90deg);transform-origin:50% 50%;width:19.97px;height:19.97px;text-align:center;"><i>β</i></div>
</body></html>
